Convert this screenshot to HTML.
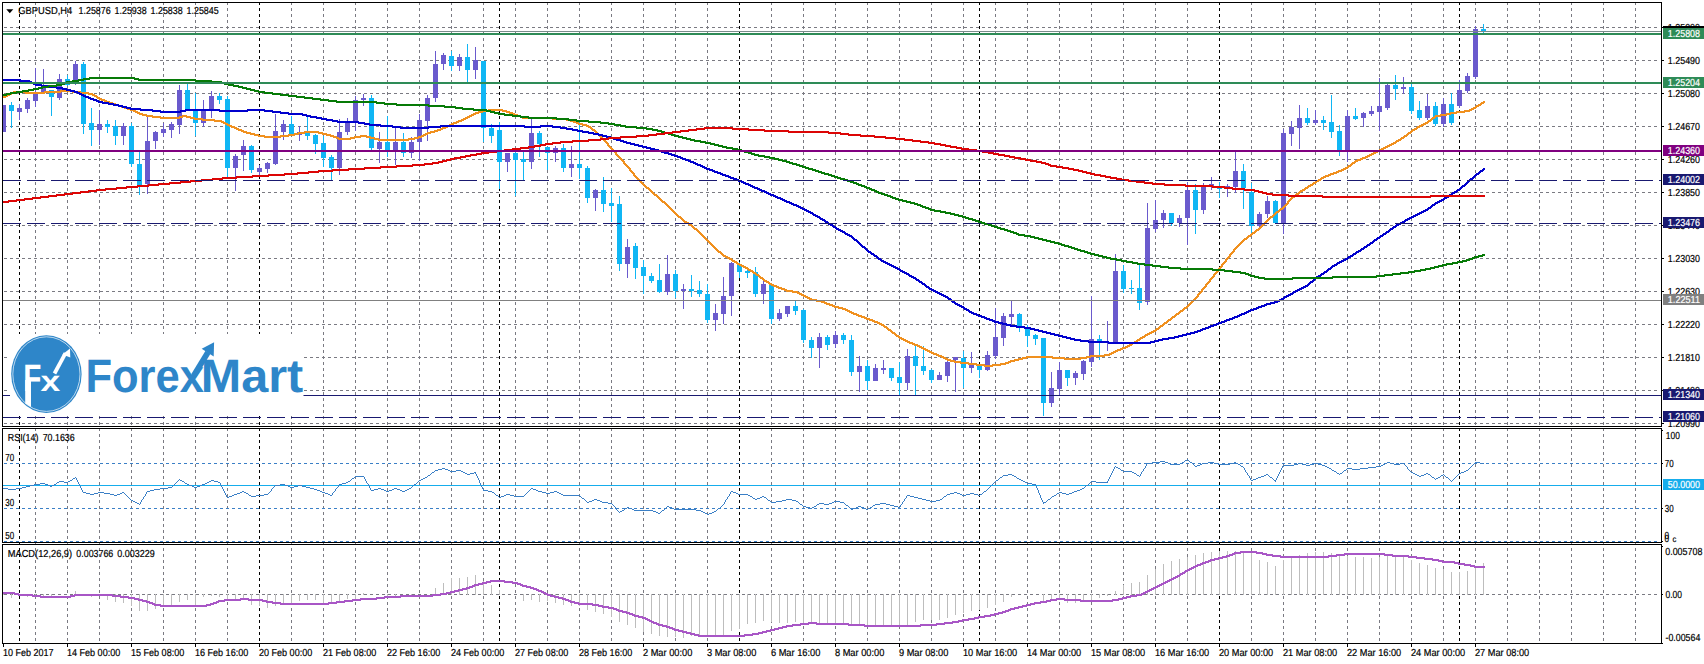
<!DOCTYPE html>
<html><head><meta charset="utf-8"><title>GBPUSD H4</title>
<style>html,body{margin:0;padding:0;background:#fff;overflow:hidden}svg{display:block}</style></head>
<body>
<svg width="1704" height="664" viewBox="0 0 1704 664" style="display:block" text-rendering="geometricPrecision">
<rect x="0" y="0" width="1704" height="664" fill="#fff"/>
<g shape-rendering="crispEdges" fill="none" stroke-width="1">
<path d="M35.5 2V641M67.5 2V641M99.5 2V641M131.5 2V641M163.5 2V641M195.5 2V641M227.5 2V641M259.5 2V641M291.5 2V641M323.5 2V641M355.5 2V641M387.5 2V641M419.5 2V641M451.5 2V641M483.5 2V641M515.5 2V641M547.5 2V641M579.5 2V641M611.5 2V641M643.5 2V641M675.5 2V641M707.5 2V641M739.5 2V641M771.5 2V641M803.5 2V641M835.5 2V641M867.5 2V641M899.5 2V641M931.5 2V641M963.5 2V641M995.5 2V641M1027.5 2V641M1059.5 2V641M1091.5 2V641M1123.5 2V641M1155.5 2V641M1187.5 2V641M1219.5 2V641M1251.5 2V641M1283.5 2V641M1315.5 2V641M1347.5 2V641M1379.5 2V641M1411.5 2V641M1443.5 2V641M1475.5 2V641M1507.5 2V641M1539.5 2V641M1571.5 2V641M1603.5 2V641M1635.5 2V641" stroke="#7a7a82" stroke-dasharray="3 3"/>
<path d="M19.5 2V641M259.5 2V641M499.5 2V641M739.5 2V641M979.5 2V641M1219.5 2V641M1459.5 2V641" stroke="#000" stroke-dasharray="3 3"/>
<path d="M4 27.5H1660M4 60.5H1660M4 93.5H1660M4 126.5H1660M4 159.5H1660M4 192.5H1660M4 225.5H1660M4 258.5H1660M4 291.5H1660M4 324.5H1660M4 357.5H1660M4 390.5H1660M4 423.5H1660" stroke="#7a7a82" stroke-dasharray="3 3"/>
</g>
<defs><clipPath id="mainclip"><rect x="3" y="3" width="1658" height="423"/></clipPath></defs>
<g shape-rendering="crispEdges" clip-path="url(#mainclip)">
<path d="M3.5 105V132M19.5 104V120M27.5 98V113M35.5 68V107M43.5 69V92M59.5 74V100M75.5 61V85M99.5 110V145M123.5 123V145M147.5 117V194M155.5 131V149M163.5 123V137M171.5 122V138M179.5 85V134M203.5 100V127M211.5 91V118M235.5 154V191M243.5 140V171M259.5 165V177M267.5 162V173M275.5 114V165M283.5 120V140M299.5 126V141M339.5 119V175M347.5 118V135M355.5 96V131M363.5 94V106M379.5 132V163M395.5 126V165M411.5 137V158M419.5 114V161M427.5 95V141M435.5 51V102M443.5 53V70M459.5 54V71M475.5 47V79M507.5 153V172M531.5 119V169M555.5 146V162M571.5 146V177M595.5 189V211M627.5 239V278M667.5 255V295M683.5 284V309M715.5 304V331M723.5 277V324M731.5 262V316M763.5 281V304M779.5 309V321M787.5 306V317M819.5 333V368M835.5 331V348M859.5 356V392M875.5 364V381M883.5 360V374M907.5 349V390M939.5 372V380M947.5 361V382M955.5 357V392M971.5 352V373M987.5 351V371M995.5 308V359M1003.5 313V346M1011.5 301V325M1051.5 372V407M1059.5 362V395M1075.5 371V385M1083.5 360V380M1091.5 296V367M1107.5 321V351M1115.5 254V344M1147.5 203V305M1155.5 200V232M1163.5 210V228M1179.5 215V227M1187.5 182V245M1203.5 183V214M1211.5 177V190M1227.5 184V197M1235.5 152V193M1259.5 212V227M1267.5 196V218M1283.5 129V234M1291.5 121V146M1299.5 105V149M1315.5 110V125M1347.5 110V162M1363.5 112V127M1371.5 106V116M1379.5 78V131M1387.5 84V110M1403.5 77V94M1427.5 94V120M1443.5 98V127M1459.5 80V108M1467.5 73V93M1475.5 26V79" stroke="#6a5acd" stroke-width="1" fill="none"/>
<path d="M11.5 102V128M51.5 90V116M67.5 75V86M83.5 62V134M91.5 108V146M107.5 120V133M115.5 120V145M131.5 123V167M139.5 152V195M187.5 84V110M195.5 93V136M219.5 93V104M227.5 96V178M251.5 145V173M291.5 116V136M307.5 117V140M315.5 134V154M323.5 136V167M331.5 155V181M371.5 95V150M387.5 116V157M403.5 133V157M451.5 51V71M467.5 44V82M483.5 61V142M491.5 124V143M499.5 122V189M515.5 152V196M523.5 152V180M539.5 131V157M547.5 147V170M563.5 144V172M579.5 122V179M587.5 166V203M603.5 177V212M611.5 188V222M619.5 196V271M635.5 243V279M643.5 260V294M651.5 273V283M659.5 264V293M675.5 270V298M691.5 275V297M699.5 281V297M707.5 284V323M739.5 262V278M747.5 269V278M755.5 267V297M771.5 284V324M795.5 301V315M803.5 309V343M811.5 337V358M827.5 335V350M843.5 333V344M851.5 335V376M867.5 360V390M891.5 368V381M899.5 362V395M915.5 346V395M923.5 346V375M931.5 369V383M963.5 351V388M979.5 365V378M1019.5 313V332M1027.5 325V347M1035.5 334V345M1043.5 338V416M1067.5 370V386M1099.5 335V360M1123.5 265V293M1131.5 280V294M1139.5 264V310M1171.5 213V226M1195.5 184V234M1219.5 182V198M1243.5 164V209M1251.5 183V233M1275.5 200V224M1307.5 108V125M1323.5 116V130M1331.5 95V138M1339.5 125V156M1355.5 108V120M1395.5 75V100M1411.5 83V114M1419.5 101V120M1435.5 102V126M1451.5 93V125M1483.5 24V33" stroke="#10b6f4" stroke-width="1" fill="none"/>
<path d="M1 105h5v27h-5zM17 108h5v4h-5zM25 100h5v9h-5zM33 93h5v8h-5zM41 88h5v4h-5zM57 79h5v19h-5zM73 64h5v16h-5zM97 124h5v6h-5zM121 126h5v10h-5zM145 141h5v43h-5zM153 132h5v9h-5zM161 129h5v4h-5zM169 124h5v6h-5zM177 90h5v35h-5zM201 109h5v14h-5zM209 96h5v14h-5zM233 156h5v12h-5zM241 146h5v9h-5zM257 168h5v4h-5zM265 163h5v6h-5zM273 131h5v33h-5zM281 124h5v8h-5zM297 132h5v3h-5zM337 132h5v36h-5zM345 122h5v10h-5zM353 100h5v22h-5zM361 98h5v2h-5zM377 142h5v7h-5zM393 142h5v10h-5zM409 142h5v11h-5zM417 120h5v22h-5zM425 98h5v23h-5zM433 64h5v34h-5zM441 55h5v9h-5zM457 57h5v9h-5zM473 60h5v10h-5zM505 153h5v9h-5zM529 133h5v29h-5zM553 148h5v5h-5zM569 164h5v4h-5zM593 190h5v8h-5zM625 247h5v17h-5zM665 274h5v18h-5zM681 289h5v2h-5zM713 313h5v7h-5zM721 296h5v18h-5zM729 263h5v33h-5zM761 284h5v10h-5zM777 313h5v6h-5zM785 306h5v8h-5zM817 337h5v11h-5zM833 335h5v9h-5zM857 366h5v6h-5zM873 368h5v13h-5zM881 368h5v2h-5zM905 356h5v27h-5zM937 375h5v5h-5zM945 362h5v14h-5zM953 357h5v3h-5zM969 363h5v5h-5zM985 355h5v15h-5zM993 337h5v19h-5zM1001 316h5v22h-5zM1009 314h5v3h-5zM1049 388h5v15h-5zM1057 370h5v19h-5zM1073 373h5v5h-5zM1081 361h5v13h-5zM1089 339h5v23h-5zM1105 342h5v1h-5zM1113 271h5v72h-5zM1145 228h5v74h-5zM1153 220h5v9h-5zM1161 213h5v7h-5zM1177 218h5v5h-5zM1185 190h5v28h-5zM1201 186h5v24h-5zM1209 184h5v3h-5zM1225 186h5v2h-5zM1233 171h5v16h-5zM1257 214h5v12h-5zM1265 201h5v13h-5zM1281 133h5v90h-5zM1289 127h5v7h-5zM1297 118h5v10h-5zM1313 120h5v3h-5zM1345 116h5v34h-5zM1361 113h5v5h-5zM1369 111h5v3h-5zM1377 106h5v6h-5zM1385 85h5v23h-5zM1401 87h5v2h-5zM1425 106h5v12h-5zM1441 104h5v20h-5zM1457 90h5v16h-5zM1465 76h5v15h-5zM1473 29h5v48h-5z" fill="#6a5acd"/>
<path d="M9 105h5v6h-5zM49 90h5v7h-5zM65 79h5v6h-5zM81 64h5v60h-5zM89 123h5v7h-5zM105 124h5v3h-5zM113 126h5v10h-5zM129 126h5v38h-5zM137 164h5v22h-5zM185 90h5v20h-5zM193 109h5v14h-5zM217 96h5v4h-5zM225 99h5v69h-5zM249 146h5v24h-5zM289 124h5v10h-5zM305 132h5v4h-5zM313 135h5v9h-5zM321 143h5v15h-5zM329 157h5v11h-5zM369 98h5v50h-5zM385 142h5v10h-5zM401 142h5v11h-5zM449 56h5v10h-5zM465 57h5v13h-5zM481 61h5v67h-5zM489 128h5v8h-5zM497 130h5v32h-5zM513 153h5v7h-5zM521 159h5v3h-5zM537 133h5v11h-5zM545 147h5v6h-5zM561 148h5v20h-5zM577 164h5v4h-5zM585 168h5v30h-5zM601 190h5v14h-5zM609 203h5v3h-5zM617 204h5v60h-5zM633 246h5v22h-5zM641 267h5v9h-5zM649 276h5v5h-5zM657 280h5v12h-5zM673 274h5v17h-5zM689 289h5v2h-5zM697 290h5v4h-5zM705 294h5v26h-5zM737 264h5v8h-5zM745 271h5v2h-5zM753 272h5v22h-5zM769 285h5v34h-5zM793 306h5v5h-5zM801 310h5v30h-5zM809 340h5v8h-5zM825 337h5v8h-5zM841 335h5v5h-5zM849 340h5v32h-5zM865 366h5v15h-5zM889 368h5v10h-5zM897 377h5v6h-5zM913 356h5v10h-5zM921 366h5v5h-5zM929 370h5v10h-5zM961 358h5v10h-5zM977 366h5v4h-5zM1017 314h5v12h-5zM1025 329h5v7h-5zM1033 335h5v4h-5zM1041 338h5v65h-5zM1065 370h5v8h-5zM1097 339h5v4h-5zM1121 271h5v18h-5zM1129 288h5v1h-5zM1137 288h5v15h-5zM1169 213h5v10h-5zM1193 190h5v20h-5zM1217 186h5v3h-5zM1241 171h5v17h-5zM1249 192h5v34h-5zM1273 201h5v22h-5zM1305 118h5v5h-5zM1321 120h5v3h-5zM1329 122h5v10h-5zM1337 131h5v19h-5zM1353 116h5v3h-5zM1393 85h5v4h-5zM1409 87h5v24h-5zM1417 110h5v8h-5zM1433 106h5v18h-5zM1449 104h5v19h-5zM1481 29h5v3h-5z" fill="#10b6f4"/>
</g>
<g clip-path="url(#mainclip)">
<path d="M60 90h13v1h-13zM13 91h13v1h-13zM44 91h37v1h-37zM11 92h50v1h-50zM72 92h17v1h-17zM9 93h5v1h-5zM25 93h20v1h-20zM80 93h13v1h-13zM7 94h5v1h-5zM88 94h7v1h-7zM5 95h5v1h-5zM92 95h5v1h-5zM3 96h5v1h-5zM94 96h4v1h-4zM3 97h3v1h-3zM96 97h4v1h-4zM97 98h5v1h-5zM99 99h6v1h-6zM101 100h6v1h-6zM104 101h6v1h-6zM1483 101h2v1h-2zM106 102h7v1h-7zM1481 102h4v1h-4zM109 103h7v1h-7zM1480 103h4v1h-4zM112 104h7v1h-7zM1478 104h4v1h-4zM115 105h7v1h-7zM1476 105h5v1h-5zM118 106h7v1h-7zM1475 106h4v1h-4zM121 107h7v1h-7zM1473 107h4v1h-4zM124 108h7v1h-7zM1471 108h5v1h-5zM127 109h7v1h-7zM488 109h15v1h-15zM1469 109h5v1h-5zM130 110h6v1h-6zM482 110h25v1h-25zM1464 110h8v1h-8zM133 111h5v1h-5zM478 111h11v1h-11zM502 111h8v1h-8zM1456 111h14v1h-14zM135 112h5v1h-5zM475 112h8v1h-8zM506 112h7v1h-7zM1450 112h15v1h-15zM137 113h6v1h-6zM473 113h6v1h-6zM509 113h6v1h-6zM1446 113h11v1h-11zM139 114h8v1h-8zM471 114h5v1h-5zM512 114h6v1h-6zM1440 114h11v1h-11zM142 115h11v1h-11zM182 115h5v1h-5zM469 115h5v1h-5zM514 115h7v1h-7zM1435 115h12v1h-12zM146 116h15v1h-15zM179 116h12v1h-12zM467 116h5v1h-5zM517 116h6v1h-6zM1434 116h7v1h-7zM152 117h31v1h-31zM186 117h9v1h-9zM465 117h5v1h-5zM520 117h33v1h-33zM1432 117h4v1h-4zM160 118h20v1h-20zM190 118h13v1h-13zM463 118h5v1h-5zM522 118h45v1h-45zM1431 118h4v1h-4zM194 119h21v1h-21zM461 119h5v1h-5zM552 119h19v1h-19zM1430 119h3v1h-3zM202 120h20v1h-20zM458 120h6v1h-6zM566 120h8v1h-8zM1428 120h4v1h-4zM214 121h10v1h-10zM456 121h6v1h-6zM570 121h7v1h-7zM1427 121h4v1h-4zM221 122h5v1h-5zM453 122h6v1h-6zM573 122h6v1h-6zM1425 122h4v1h-4zM223 123h5v1h-5zM451 123h6v1h-6zM576 123h7v1h-7zM1423 123h5v1h-5zM225 124h5v1h-5zM449 124h5v1h-5zM578 124h9v1h-9zM1421 124h5v1h-5zM227 125h5v1h-5zM447 125h5v1h-5zM582 125h7v1h-7zM1419 125h5v1h-5zM229 126h6v1h-6zM445 126h5v1h-5zM586 126h5v1h-5zM1417 126h5v1h-5zM231 127h6v1h-6zM442 127h6v1h-6zM588 127h4v1h-4zM1416 127h4v1h-4zM234 128h5v1h-5zM440 128h6v1h-6zM590 128h3v1h-3zM1414 128h4v1h-4zM236 129h6v1h-6zM437 129h6v1h-6zM591 129h4v1h-4zM1412 129h5v1h-5zM238 130h6v1h-6zM434 130h7v1h-7zM592 130h4v1h-4zM1411 130h4v1h-4zM241 131h6v1h-6zM304 131h15v1h-15zM430 131h8v1h-8zM594 131h3v1h-3zM1410 131h3v1h-3zM243 132h8v1h-8zM298 132h25v1h-25zM427 132h8v1h-8zM595 132h3v1h-3zM1408 132h4v1h-4zM246 133h9v1h-9zM294 133h11v1h-11zM318 133h9v1h-9zM425 133h6v1h-6zM596 133h3v1h-3zM1407 133h4v1h-4zM250 134h9v1h-9zM288 134h11v1h-11zM322 134h9v1h-9zM423 134h5v1h-5zM597 134h3v1h-3zM1406 134h3v1h-3zM254 135h11v1h-11zM280 135h15v1h-15zM326 135h8v1h-8zM360 135h7v1h-7zM421 135h5v1h-5zM598 135h3v1h-3zM1404 135h4v1h-4zM258 136h31v1h-31zM330 136h7v1h-7zM354 136h17v1h-17zM418 136h6v1h-6zM599 136h3v1h-3zM1403 136h4v1h-4zM264 137h17v1h-17zM333 137h6v1h-6zM350 137h11v1h-11zM366 137h9v1h-9zM414 137h8v1h-8zM600 137h3v1h-3zM1401 137h4v1h-4zM336 138h19v1h-19zM370 138h9v1h-9zM408 138h11v1h-11zM601 138h3v1h-3zM1400 138h4v1h-4zM338 139h13v1h-13zM374 139h41v1h-41zM602 139h3v1h-3zM1398 139h4v1h-4zM378 140h31v1h-31zM603 140h3v1h-3zM1396 140h5v1h-5zM604 141h3v1h-3zM1395 141h4v1h-4zM605 142h3v1h-3zM1393 142h4v1h-4zM606 143h3v1h-3zM1391 143h5v1h-5zM607 144h2v1h-2zM1389 144h5v1h-5zM607 145h3v1h-3zM1387 145h5v1h-5zM608 146h3v1h-3zM1385 146h5v1h-5zM609 147h3v1h-3zM1383 147h5v1h-5zM610 148h3v1h-3zM1381 148h5v1h-5zM611 149h3v1h-3zM1379 149h5v1h-5zM612 150h3v1h-3zM1377 150h5v1h-5zM613 151h3v1h-3zM1375 151h5v1h-5zM614 152h3v1h-3zM1373 152h5v1h-5zM615 153h2v1h-2zM1371 153h5v1h-5zM615 154h3v1h-3zM1369 154h5v1h-5zM616 155h3v1h-3zM1367 155h5v1h-5zM617 156h3v1h-3zM1365 156h5v1h-5zM618 157h3v1h-3zM1362 157h6v1h-6zM619 158h3v1h-3zM1360 158h6v1h-6zM620 159h3v1h-3zM1357 159h6v1h-6zM621 160h3v1h-3zM1355 160h6v1h-6zM622 161h3v1h-3zM1354 161h4v1h-4zM623 162h2v1h-2zM1352 162h4v1h-4zM623 163h3v1h-3zM1351 163h4v1h-4zM624 164h3v1h-3zM1350 164h3v1h-3zM625 165h3v1h-3zM1348 165h4v1h-4zM626 166h3v1h-3zM1347 166h4v1h-4zM627 167h3v1h-3zM1345 167h4v1h-4zM628 168h3v1h-3zM1343 168h5v1h-5zM629 169h2v1h-2zM1341 169h5v1h-5zM629 170h3v1h-3zM1338 170h6v1h-6zM630 171h3v1h-3zM1336 171h6v1h-6zM631 172h3v1h-3zM1333 172h6v1h-6zM632 173h3v1h-3zM1330 173h7v1h-7zM633 174h2v1h-2zM1328 174h6v1h-6zM633 175h3v1h-3zM1325 175h6v1h-6zM634 176h3v1h-3zM1323 176h6v1h-6zM635 177h3v1h-3zM1321 177h5v1h-5zM636 178h3v1h-3zM1320 178h4v1h-4zM637 179h3v1h-3zM1318 179h4v1h-4zM638 180h3v1h-3zM1316 180h5v1h-5zM639 181h3v1h-3zM1315 181h4v1h-4zM640 182h3v1h-3zM1313 182h4v1h-4zM641 183h3v1h-3zM1312 183h4v1h-4zM642 184h3v1h-3zM1310 184h4v1h-4zM643 185h3v1h-3zM1308 185h5v1h-5zM644 186h3v1h-3zM1307 186h4v1h-4zM645 187h4v1h-4zM1305 187h4v1h-4zM646 188h4v1h-4zM1304 188h4v1h-4zM648 189h3v1h-3zM1302 189h4v1h-4zM649 190h3v1h-3zM1300 190h5v1h-5zM650 191h3v1h-3zM1299 191h4v1h-4zM651 192h3v1h-3zM1298 192h3v1h-3zM652 193h3v1h-3zM1296 193h4v1h-4zM653 194h4v1h-4zM1295 194h4v1h-4zM654 195h4v1h-4zM1294 195h3v1h-3zM656 196h3v1h-3zM1292 196h4v1h-4zM657 197h3v1h-3zM1291 197h4v1h-4zM658 198h3v1h-3zM1290 198h3v1h-3zM659 199h3v1h-3zM1289 199h3v1h-3zM660 200h3v1h-3zM1288 200h3v1h-3zM661 201h4v1h-4zM1287 201h3v1h-3zM662 202h4v1h-4zM1287 202h2v1h-2zM664 203h3v1h-3zM1286 203h3v1h-3zM665 204h3v1h-3zM1285 204h3v1h-3zM666 205h3v1h-3zM1284 205h3v1h-3zM667 206h3v1h-3zM1283 206h3v1h-3zM668 207h3v1h-3zM1282 207h3v1h-3zM669 208h3v1h-3zM1280 208h4v1h-4zM670 209h3v1h-3zM1279 209h4v1h-4zM671 210h3v1h-3zM1278 210h3v1h-3zM672 211h3v1h-3zM1276 211h4v1h-4zM673 212h3v1h-3zM1275 212h4v1h-4zM674 213h3v1h-3zM1274 213h3v1h-3zM675 214h3v1h-3zM1273 214h3v1h-3zM676 215h3v1h-3zM1272 215h3v1h-3zM677 216h4v1h-4zM1270 216h4v1h-4zM678 217h4v1h-4zM1269 217h4v1h-4zM680 218h3v1h-3zM1268 218h3v1h-3zM681 219h3v1h-3zM1267 219h3v1h-3zM682 220h3v1h-3zM1266 220h3v1h-3zM683 221h4v1h-4zM1265 221h3v1h-3zM684 222h5v1h-5zM1264 222h3v1h-3zM686 223h4v1h-4zM1263 223h3v1h-3zM688 224h4v1h-4zM1262 224h3v1h-3zM689 225h4v1h-4zM1261 225h3v1h-3zM691 226h3v1h-3zM1260 226h3v1h-3zM692 227h3v1h-3zM1259 227h3v1h-3zM693 228h4v1h-4zM1258 228h3v1h-3zM694 229h4v1h-4zM1256 229h4v1h-4zM696 230h3v1h-3zM1255 230h4v1h-4zM697 231h3v1h-3zM1254 231h3v1h-3zM698 232h3v1h-3zM1252 232h4v1h-4zM699 233h3v1h-3zM1251 233h4v1h-4zM700 234h3v1h-3zM1250 234h3v1h-3zM701 235h3v1h-3zM1248 235h4v1h-4zM702 236h3v1h-3zM1247 236h4v1h-4zM703 237h3v1h-3zM1246 237h3v1h-3zM704 238h3v1h-3zM1244 238h4v1h-4zM705 239h3v1h-3zM1243 239h4v1h-4zM706 240h3v1h-3zM1242 240h3v1h-3zM707 241h3v1h-3zM1241 241h3v1h-3zM708 242h3v1h-3zM1240 242h3v1h-3zM709 243h3v1h-3zM1239 243h3v1h-3zM710 244h3v1h-3zM1238 244h3v1h-3zM711 245h3v1h-3zM1237 245h3v1h-3zM712 246h3v1h-3zM1236 246h3v1h-3zM713 247h3v1h-3zM1235 247h3v1h-3zM714 248h3v1h-3zM1234 248h3v1h-3zM715 249h3v1h-3zM1233 249h3v1h-3zM716 250h3v1h-3zM1233 250h2v1h-2zM717 251h4v1h-4zM1232 251h3v1h-3zM718 252h4v1h-4zM1231 252h3v1h-3zM720 253h3v1h-3zM1230 253h3v1h-3zM721 254h3v1h-3zM1229 254h3v1h-3zM722 255h4v1h-4zM1229 255h2v1h-2zM723 256h5v1h-5zM1228 256h3v1h-3zM725 257h5v1h-5zM1227 257h3v1h-3zM727 258h5v1h-5zM1226 258h3v1h-3zM729 259h4v1h-4zM1225 259h3v1h-3zM731 260h4v1h-4zM1225 260h2v1h-2zM732 261h5v1h-5zM1224 261h3v1h-3zM734 262h4v1h-4zM1223 262h3v1h-3zM736 263h4v1h-4zM1222 263h3v1h-3zM737 264h5v1h-5zM1221 264h3v1h-3zM739 265h5v1h-5zM1221 265h2v1h-2zM741 266h5v1h-5zM1220 266h3v1h-3zM743 267h5v1h-5zM1219 267h3v1h-3zM745 268h4v1h-4zM1218 268h3v1h-3zM747 269h4v1h-4zM1217 269h3v1h-3zM748 270h5v1h-5zM1217 270h2v1h-2zM750 271h4v1h-4zM1216 271h3v1h-3zM752 272h4v1h-4zM1215 272h3v1h-3zM753 273h4v1h-4zM1214 273h3v1h-3zM755 274h4v1h-4zM1213 274h3v1h-3zM756 275h4v1h-4zM1213 275h2v1h-2zM758 276h3v1h-3zM1212 276h3v1h-3zM759 277h4v1h-4zM1211 277h3v1h-3zM760 278h4v1h-4zM1210 278h3v1h-3zM762 279h3v1h-3zM1209 279h3v1h-3zM763 280h4v1h-4zM1209 280h2v1h-2zM764 281h5v1h-5zM1208 281h3v1h-3zM766 282h4v1h-4zM1207 282h3v1h-3zM768 283h4v1h-4zM1206 283h3v1h-3zM769 284h5v1h-5zM1205 284h3v1h-3zM771 285h6v1h-6zM1205 285h2v1h-2zM773 286h6v1h-6zM1204 286h3v1h-3zM776 287h6v1h-6zM1203 287h3v1h-3zM778 288h7v1h-7zM1202 288h3v1h-3zM781 289h6v1h-6zM1201 289h3v1h-3zM784 290h9v1h-9zM1201 290h2v1h-2zM786 291h12v1h-12zM1200 291h3v1h-3zM792 292h8v1h-8zM1199 292h3v1h-3zM797 293h5v1h-5zM1198 293h3v1h-3zM799 294h5v1h-5zM1197 294h3v1h-3zM801 295h5v1h-5zM1197 295h2v1h-2zM803 296h5v1h-5zM1196 296h3v1h-3zM805 297h5v1h-5zM1195 297h3v1h-3zM807 298h5v1h-5zM1194 298h3v1h-3zM809 299h8v1h-8zM1193 299h3v1h-3zM811 300h11v1h-11zM1192 300h3v1h-3zM816 301h9v1h-9zM1191 301h3v1h-3zM821 302h6v1h-6zM1190 302h3v1h-3zM824 303h6v1h-6zM1189 303h3v1h-3zM826 304h7v1h-7zM1188 304h3v1h-3zM829 305h6v1h-6zM1187 305h3v1h-3zM832 306h7v1h-7zM1186 306h3v1h-3zM834 307h9v1h-9zM1184 307h4v1h-4zM838 308h8v1h-8zM1183 308h4v1h-4zM842 309h6v1h-6zM1182 309h3v1h-3zM845 310h5v1h-5zM1180 310h4v1h-4zM847 311h5v1h-5zM1179 311h4v1h-4zM849 312h5v1h-5zM1178 312h3v1h-3zM851 313h6v1h-6zM1176 313h4v1h-4zM853 314h6v1h-6zM1175 314h4v1h-4zM856 315h6v1h-6zM1174 315h3v1h-3zM858 316h7v1h-7zM1172 316h4v1h-4zM861 317h6v1h-6zM1171 317h4v1h-4zM864 318h6v1h-6zM1170 318h3v1h-3zM866 319h7v1h-7zM1168 319h4v1h-4zM869 320h6v1h-6zM1167 320h4v1h-4zM872 321h6v1h-6zM1166 321h3v1h-3zM874 322h6v1h-6zM1164 322h4v1h-4zM877 323h5v1h-5zM1163 323h4v1h-4zM879 324h5v1h-5zM1162 324h3v1h-3zM881 325h4v1h-4zM1160 325h4v1h-4zM883 326h4v1h-4zM1159 326h4v1h-4zM884 327h4v1h-4zM1158 327h3v1h-3zM886 328h3v1h-3zM1156 328h4v1h-4zM887 329h4v1h-4zM1155 329h4v1h-4zM888 330h4v1h-4zM1153 330h4v1h-4zM890 331h3v1h-3zM1151 331h5v1h-5zM891 332h4v1h-4zM1149 332h5v1h-5zM892 333h4v1h-4zM1147 333h5v1h-5zM894 334h3v1h-3zM1145 334h5v1h-5zM895 335h4v1h-4zM1144 335h4v1h-4zM896 336h4v1h-4zM1142 336h4v1h-4zM898 337h4v1h-4zM1140 337h5v1h-5zM899 338h5v1h-5zM1139 338h4v1h-4zM901 339h5v1h-5zM1137 339h4v1h-4zM903 340h5v1h-5zM1136 340h4v1h-4zM905 341h5v1h-5zM1134 341h4v1h-4zM907 342h6v1h-6zM1132 342h5v1h-5zM909 343h6v1h-6zM1131 343h4v1h-4zM912 344h6v1h-6zM1129 344h4v1h-4zM914 345h6v1h-6zM1127 345h5v1h-5zM917 346h5v1h-5zM1125 346h5v1h-5zM919 347h5v1h-5zM1122 347h6v1h-6zM921 348h5v1h-5zM1120 348h6v1h-6zM923 349h5v1h-5zM1117 349h6v1h-6zM925 350h5v1h-5zM1115 350h6v1h-6zM927 351h5v1h-5zM1113 351h5v1h-5zM929 352h5v1h-5zM1111 352h5v1h-5zM931 353h6v1h-6zM1109 353h5v1h-5zM933 354h6v1h-6zM1104 354h8v1h-8zM936 355h6v1h-6zM1090 355h20v1h-20zM938 356h6v1h-6zM1026 356h27v1h-27zM1086 356h19v1h-19zM941 357h5v1h-5zM1022 357h43v1h-43zM1080 357h11v1h-11zM943 358h5v1h-5zM1018 358h9v1h-9zM1052 358h35v1h-35zM945 359h6v1h-6zM1014 359h9v1h-9zM1064 359h17v1h-17zM947 360h8v1h-8zM1010 360h9v1h-9zM950 361h11v1h-11zM1008 361h7v1h-7zM954 362h15v1h-15zM1005 362h6v1h-6zM960 363h17v1h-17zM1000 363h9v1h-9zM968 364h17v1h-17zM992 364h14v1h-14zM976 365h25v1h-25zM984 366h9v1h-9z" fill="#f0901e" shape-rendering="crispEdges"/>
<path d="M3 79h18v1h-18zM3 80h27v1h-27zM20 81h12v1h-12zM29 82h5v1h-5zM31 83h5v1h-5zM33 84h9v1h-9zM35 85h15v1h-15zM41 86h16v1h-16zM49 87h14v1h-14zM56 88h11v1h-11zM62 89h9v1h-9zM66 90h9v1h-9zM70 91h8v1h-8zM74 92h6v1h-6zM77 93h5v1h-5zM79 94h5v1h-5zM81 95h5v1h-5zM83 96h6v1h-6zM85 97h6v1h-6zM88 98h6v1h-6zM90 99h7v1h-7zM93 100h6v1h-6zM96 101h7v1h-7zM98 102h11v1h-11zM102 103h12v1h-12zM108 104h11v1h-11zM113 105h10v1h-10zM118 106h9v1h-9zM122 107h9v1h-9zM126 108h15v1h-15zM130 109h23v1h-23zM185 109h35v1h-35zM247 109h18v1h-18zM140 110h21v1h-21zM180 110h93v1h-93zM152 111h34v1h-34zM219 111h29v1h-29zM264 111h17v1h-17zM160 112h21v1h-21zM272 112h17v1h-17zM280 113h23v1h-23zM288 114h19v1h-19zM302 115h9v1h-9zM306 116h11v1h-11zM310 117h12v1h-12zM316 118h11v1h-11zM321 119h12v1h-12zM326 120h12v1h-12zM332 121h27v1h-27zM337 122h28v1h-28zM358 123h12v1h-12zM364 124h17v1h-17zM369 125h24v1h-24zM440 125h85v1h-85zM540 125h13v1h-13zM380 126h21v1h-21zM428 126h133v1h-133zM392 127h49v1h-49zM524 127h17v1h-17zM552 127h15v1h-15zM400 128h29v1h-29zM560 128h13v1h-13zM566 129h12v1h-12zM572 130h11v1h-11zM577 131h12v1h-12zM582 132h12v1h-12zM588 133h11v1h-11zM593 134h10v1h-10zM598 135h9v1h-9zM602 136h9v1h-9zM606 137h8v1h-8zM610 138h7v1h-7zM613 139h8v1h-8zM616 140h8v1h-8zM620 141h7v1h-7zM623 142h8v1h-8zM626 143h9v1h-9zM630 144h9v1h-9zM634 145h9v1h-9zM638 146h9v1h-9zM642 147h9v1h-9zM646 148h9v1h-9zM650 149h9v1h-9zM654 150h8v1h-8zM658 151h7v1h-7zM661 152h8v1h-8zM664 153h8v1h-8zM668 154h7v1h-7zM671 155h7v1h-7zM674 156h7v1h-7zM677 157h6v1h-6zM680 158h6v1h-6zM682 159h7v1h-7zM685 160h6v1h-6zM688 161h6v1h-6zM690 162h6v1h-6zM693 163h5v1h-5zM695 164h6v1h-6zM697 165h6v1h-6zM700 166h5v1h-5zM702 167h5v1h-5zM704 168h6v1h-6zM1483 168h2v1h-2zM706 169h7v1h-7zM1482 169h3v1h-3zM709 170h6v1h-6zM1480 170h4v1h-4zM712 171h6v1h-6zM1479 171h4v1h-4zM714 172h7v1h-7zM1478 172h3v1h-3zM717 173h6v1h-6zM1476 173h4v1h-4zM720 174h6v1h-6zM1475 174h4v1h-4zM722 175h7v1h-7zM1474 175h3v1h-3zM725 176h6v1h-6zM1473 176h3v1h-3zM728 177h6v1h-6zM1472 177h3v1h-3zM730 178h7v1h-7zM1470 178h4v1h-4zM733 179h6v1h-6zM1469 179h4v1h-4zM736 180h6v1h-6zM1468 180h3v1h-3zM738 181h6v1h-6zM1467 181h3v1h-3zM741 182h5v1h-5zM1466 182h3v1h-3zM743 183h6v1h-6zM1465 183h3v1h-3zM745 184h6v1h-6zM1464 184h3v1h-3zM748 185h5v1h-5zM1462 185h4v1h-4zM750 186h5v1h-5zM1461 186h4v1h-4zM752 187h6v1h-6zM1460 187h3v1h-3zM754 188h6v1h-6zM1459 188h3v1h-3zM757 189h5v1h-5zM1457 189h4v1h-4zM759 190h6v1h-6zM1456 190h4v1h-4zM761 191h6v1h-6zM1454 191h4v1h-4zM764 192h5v1h-5zM1452 192h5v1h-5zM766 193h5v1h-5zM1451 193h4v1h-4zM768 194h6v1h-6zM1449 194h4v1h-4zM770 195h6v1h-6zM1448 195h4v1h-4zM773 196h5v1h-5zM1446 196h4v1h-4zM775 197h6v1h-6zM1444 197h5v1h-5zM777 198h6v1h-6zM1443 198h4v1h-4zM780 199h5v1h-5zM1441 199h4v1h-4zM782 200h5v1h-5zM1439 200h5v1h-5zM784 201h6v1h-6zM1437 201h5v1h-5zM786 202h6v1h-6zM1435 202h5v1h-5zM789 203h5v1h-5zM1434 203h4v1h-4zM791 204h6v1h-6zM1432 204h4v1h-4zM793 205h6v1h-6zM1431 205h4v1h-4zM796 206h5v1h-5zM1430 206h3v1h-3zM798 207h5v1h-5zM1428 207h4v1h-4zM800 208h5v1h-5zM1427 208h4v1h-4zM802 209h5v1h-5zM1425 209h4v1h-4zM804 210h5v1h-5zM1423 210h5v1h-5zM806 211h5v1h-5zM1421 211h5v1h-5zM808 212h5v1h-5zM1419 212h5v1h-5zM810 213h4v1h-4zM1417 213h5v1h-5zM812 214h4v1h-4zM1415 214h5v1h-5zM813 215h5v1h-5zM1413 215h5v1h-5zM815 216h5v1h-5zM1411 216h5v1h-5zM817 217h4v1h-4zM1409 217h5v1h-5zM819 218h4v1h-4zM1407 218h5v1h-5zM820 219h5v1h-5zM1405 219h5v1h-5zM822 220h4v1h-4zM1404 220h4v1h-4zM824 221h4v1h-4zM1402 221h4v1h-4zM825 222h4v1h-4zM1400 222h5v1h-5zM827 223h4v1h-4zM1398 223h5v1h-5zM828 224h5v1h-5zM1396 224h5v1h-5zM830 225h4v1h-4zM1395 225h4v1h-4zM832 226h4v1h-4zM1393 226h4v1h-4zM833 227h4v1h-4zM1392 227h4v1h-4zM835 228h4v1h-4zM1390 228h4v1h-4zM836 229h5v1h-5zM1389 229h4v1h-4zM838 230h5v1h-5zM1388 230h3v1h-3zM840 231h5v1h-5zM1386 231h4v1h-4zM842 232h4v1h-4zM1385 232h4v1h-4zM844 233h4v1h-4zM1383 233h4v1h-4zM845 234h5v1h-5zM1382 234h4v1h-4zM847 235h5v1h-5zM1380 235h4v1h-4zM849 236h4v1h-4zM1379 236h4v1h-4zM851 237h3v1h-3zM1377 237h4v1h-4zM852 238h3v1h-3zM1376 238h4v1h-4zM853 239h4v1h-4zM1374 239h4v1h-4zM854 240h4v1h-4zM1373 240h4v1h-4zM856 241h3v1h-3zM1372 241h3v1h-3zM857 242h3v1h-3zM1370 242h4v1h-4zM858 243h3v1h-3zM1369 243h4v1h-4zM859 244h3v1h-3zM1367 244h4v1h-4zM860 245h3v1h-3zM1366 245h4v1h-4zM861 246h4v1h-4zM1364 246h4v1h-4zM862 247h4v1h-4zM1363 247h4v1h-4zM864 248h3v1h-3zM1361 248h4v1h-4zM865 249h3v1h-3zM1360 249h4v1h-4zM866 250h3v1h-3zM1358 250h4v1h-4zM867 251h4v1h-4zM1356 251h5v1h-5zM868 252h4v1h-4zM1355 252h4v1h-4zM870 253h4v1h-4zM1353 253h4v1h-4zM871 254h4v1h-4zM1352 254h4v1h-4zM873 255h4v1h-4zM1350 255h4v1h-4zM874 256h4v1h-4zM1348 256h5v1h-5zM876 257h3v1h-3zM1347 257h4v1h-4zM877 258h4v1h-4zM1345 258h4v1h-4zM878 259h4v1h-4zM1343 259h5v1h-5zM880 260h4v1h-4zM1341 260h5v1h-5zM881 261h5v1h-5zM1339 261h5v1h-5zM883 262h5v1h-5zM1337 262h5v1h-5zM885 263h5v1h-5zM1336 263h4v1h-4zM887 264h5v1h-5zM1334 264h4v1h-4zM889 265h5v1h-5zM1332 265h5v1h-5zM891 266h5v1h-5zM1331 266h4v1h-4zM893 267h5v1h-5zM1330 267h3v1h-3zM895 268h5v1h-5zM1328 268h4v1h-4zM897 269h4v1h-4zM1327 269h4v1h-4zM899 270h4v1h-4zM1326 270h3v1h-3zM900 271h5v1h-5zM1324 271h4v1h-4zM902 272h5v1h-5zM1323 272h4v1h-4zM904 273h5v1h-5zM1321 273h4v1h-4zM906 274h4v1h-4zM1320 274h4v1h-4zM908 275h4v1h-4zM1318 275h4v1h-4zM909 276h5v1h-5zM1316 276h5v1h-5zM911 277h5v1h-5zM1315 277h4v1h-4zM913 278h4v1h-4zM1314 278h3v1h-3zM915 279h4v1h-4zM1313 279h3v1h-3zM916 280h4v1h-4zM1312 280h3v1h-3zM918 281h4v1h-4zM1310 281h4v1h-4zM919 282h4v1h-4zM1309 282h4v1h-4zM921 283h4v1h-4zM1308 283h3v1h-3zM922 284h4v1h-4zM1307 284h3v1h-3zM924 285h3v1h-3zM1305 285h4v1h-4zM925 286h4v1h-4zM1303 286h5v1h-5zM926 287h4v1h-4zM1301 287h5v1h-5zM928 288h4v1h-4zM1299 288h5v1h-5zM929 289h5v1h-5zM1297 289h5v1h-5zM931 290h5v1h-5zM1295 290h5v1h-5zM933 291h5v1h-5zM1293 291h5v1h-5zM935 292h5v1h-5zM1292 292h4v1h-4zM937 293h5v1h-5zM1290 293h4v1h-4zM939 294h5v1h-5zM1288 294h5v1h-5zM941 295h5v1h-5zM1286 295h5v1h-5zM943 296h5v1h-5zM1284 296h5v1h-5zM945 297h4v1h-4zM1283 297h4v1h-4zM947 298h4v1h-4zM1281 298h4v1h-4zM948 299h4v1h-4zM1279 299h5v1h-5zM950 300h3v1h-3zM1277 300h5v1h-5zM951 301h4v1h-4zM1274 301h6v1h-6zM952 302h4v1h-4zM1270 302h8v1h-8zM954 303h4v1h-4zM1266 303h9v1h-9zM955 304h5v1h-5zM1264 304h7v1h-7zM957 305h5v1h-5zM1261 305h6v1h-6zM959 306h5v1h-5zM1258 306h7v1h-7zM961 307h4v1h-4zM1256 307h6v1h-6zM963 308h4v1h-4zM1253 308h6v1h-6zM964 309h5v1h-5zM1250 309h7v1h-7zM966 310h4v1h-4zM1248 310h6v1h-6zM968 311h4v1h-4zM1246 311h5v1h-5zM969 312h5v1h-5zM1244 312h5v1h-5zM971 313h6v1h-6zM1241 313h6v1h-6zM973 314h6v1h-6zM1239 314h6v1h-6zM976 315h6v1h-6zM1237 315h5v1h-5zM978 316h7v1h-7zM1234 316h6v1h-6zM981 317h6v1h-6zM1232 317h6v1h-6zM984 318h6v1h-6zM1229 318h6v1h-6zM986 319h7v1h-7zM1226 319h7v1h-7zM989 320h6v1h-6zM1224 320h6v1h-6zM992 321h7v1h-7zM1221 321h6v1h-6zM994 322h9v1h-9zM1218 322h7v1h-7zM998 323h9v1h-9zM1216 323h6v1h-6zM1002 324h9v1h-9zM1213 324h6v1h-6zM1006 325h11v1h-11zM1210 325h7v1h-7zM1010 326h15v1h-15zM1208 326h6v1h-6zM1016 327h15v1h-15zM1205 327h6v1h-6zM1024 328h11v1h-11zM1202 328h7v1h-7zM1030 329h9v1h-9zM1200 329h6v1h-6zM1034 330h9v1h-9zM1197 330h6v1h-6zM1038 331h9v1h-9zM1194 331h7v1h-7zM1042 332h9v1h-9zM1190 332h8v1h-8zM1046 333h9v1h-9zM1186 333h9v1h-9zM1050 334h9v1h-9zM1182 334h9v1h-9zM1054 335h9v1h-9zM1178 335h9v1h-9zM1058 336h9v1h-9zM1174 336h9v1h-9zM1062 337h9v1h-9zM1168 337h11v1h-11zM1066 338h9v1h-9zM1162 338h13v1h-13zM1070 339h11v1h-11zM1158 339h11v1h-11zM1074 340h15v1h-15zM1154 340h9v1h-9zM1080 341h29v1h-29zM1150 341h9v1h-9zM1088 342h67v1h-67zM1108 343h43v1h-43z" fill="#0000cd" shape-rendering="crispEdges"/>
<path d="M89 77h46v1h-46zM83 78h56v1h-56zM78 79h12v1h-12zM134 79h62v1h-62zM72 80h12v1h-12zM138 80h74v1h-74zM66 81h13v1h-13zM195 81h27v1h-27zM64 82h9v1h-9zM211 82h14v1h-14zM61 83h6v1h-6zM221 83h8v1h-8zM56 84h9v1h-9zM224 84h10v1h-10zM48 85h14v1h-14zM228 85h11v1h-11zM42 86h15v1h-15zM233 86h10v1h-10zM38 87h11v1h-11zM238 87h9v1h-9zM33 88h10v1h-10zM242 88h9v1h-9zM28 89h11v1h-11zM246 89h9v1h-9zM22 90h12v1h-12zM250 90h9v1h-9zM16 91h13v1h-13zM254 91h11v1h-11zM10 92h13v1h-13zM258 92h15v1h-15zM6 93h11v1h-11zM264 93h17v1h-17zM3 94h8v1h-8zM272 94h17v1h-17zM3 95h4v1h-4zM280 95h17v1h-17zM288 96h17v1h-17zM296 97h17v1h-17zM304 98h17v1h-17zM312 99h17v1h-17zM320 100h17v1h-17zM328 101h49v1h-49zM336 102h49v1h-49zM376 103h21v1h-21zM384 104h45v1h-45zM396 105h49v1h-49zM428 106h28v1h-28zM444 107h19v1h-19zM455 108h19v1h-19zM462 109h25v1h-25zM473 110h18v1h-18zM486 111h9v1h-9zM490 112h9v1h-9zM494 113h11v1h-11zM498 114h15v1h-15zM504 115h17v1h-17zM512 116h17v1h-17zM520 117h37v1h-37zM528 118h41v1h-41zM556 119h21v1h-21zM568 120h21v1h-21zM576 121h25v1h-25zM588 122h21v1h-21zM600 123h15v1h-15zM608 124h13v1h-13zM614 125h12v1h-12zM620 126h17v1h-17zM625 127h22v1h-22zM636 128h17v1h-17zM646 129h12v1h-12zM652 130h10v1h-10zM657 131h8v1h-8zM661 132h8v1h-8zM664 133h8v1h-8zM668 134h7v1h-7zM671 135h8v1h-8zM674 136h9v1h-9zM678 137h9v1h-9zM682 138h9v1h-9zM686 139h9v1h-9zM690 140h11v1h-11zM694 141h12v1h-12zM700 142h11v1h-11zM705 143h10v1h-10zM710 144h9v1h-9zM714 145h9v1h-9zM718 146h9v1h-9zM722 147h11v1h-11zM726 148h12v1h-12zM732 149h10v1h-10zM737 150h8v1h-8zM741 151h8v1h-8zM744 152h8v1h-8zM748 153h7v1h-7zM751 154h8v1h-8zM754 155h11v1h-11zM758 156h12v1h-12zM764 157h11v1h-11zM769 158h10v1h-10zM774 159h9v1h-9zM778 160h9v1h-9zM782 161h8v1h-8zM786 162h7v1h-7zM789 163h8v1h-8zM792 164h8v1h-8zM796 165h7v1h-7zM799 166h7v1h-7zM802 167h7v1h-7zM805 168h8v1h-8zM808 169h8v1h-8zM812 170h7v1h-7zM815 171h7v1h-7zM818 172h7v1h-7zM821 173h8v1h-8zM824 174h8v1h-8zM828 175h7v1h-7zM831 176h7v1h-7zM834 177h7v1h-7zM837 178h8v1h-8zM840 179h8v1h-8zM844 180h7v1h-7zM847 181h7v1h-7zM850 182h7v1h-7zM853 183h6v1h-6zM856 184h6v1h-6zM858 185h7v1h-7zM861 186h6v1h-6zM864 187h6v1h-6zM866 188h6v1h-6zM869 189h6v1h-6zM871 190h6v1h-6zM874 191h5v1h-5zM876 192h6v1h-6zM878 193h7v1h-7zM881 194h7v1h-7zM884 195h7v1h-7zM887 196h6v1h-6zM890 197h6v1h-6zM892 198h7v1h-7zM895 199h8v1h-8zM898 200h9v1h-9zM902 201h9v1h-9zM906 202h9v1h-9zM910 203h8v1h-8zM914 204h7v1h-7zM917 205h6v1h-6zM920 206h6v1h-6zM922 207h7v1h-7zM925 208h6v1h-6zM928 209h7v1h-7zM930 210h11v1h-11zM934 211h12v1h-12zM940 212h11v1h-11zM945 213h10v1h-10zM950 214h9v1h-9zM954 215h9v1h-9zM958 216h8v1h-8zM962 217h7v1h-7zM965 218h8v1h-8zM968 219h8v1h-8zM972 220h7v1h-7zM975 221h7v1h-7zM978 222h7v1h-7zM981 223h8v1h-8zM984 224h8v1h-8zM988 225h7v1h-7zM991 226h7v1h-7zM994 227h7v1h-7zM997 228h8v1h-8zM1000 229h8v1h-8zM1004 230h7v1h-7zM1007 231h7v1h-7zM1010 232h7v1h-7zM1013 233h6v1h-6zM1016 234h9v1h-9zM1018 235h13v1h-13zM1024 236h11v1h-11zM1030 237h9v1h-9zM1034 238h9v1h-9zM1038 239h9v1h-9zM1042 240h9v1h-9zM1046 241h9v1h-9zM1050 242h9v1h-9zM1054 243h8v1h-8zM1058 244h7v1h-7zM1061 245h8v1h-8zM1064 246h8v1h-8zM1068 247h7v1h-7zM1071 248h7v1h-7zM1074 249h7v1h-7zM1077 250h8v1h-8zM1080 251h8v1h-8zM1084 252h7v1h-7zM1087 253h8v1h-8zM1090 254h9v1h-9zM1482 254h3v1h-3zM1094 255h9v1h-9zM1478 255h7v1h-7zM1098 256h9v1h-9zM1474 256h9v1h-9zM1102 257h9v1h-9zM1472 257h7v1h-7zM1106 258h11v1h-11zM1469 258h6v1h-6zM1110 259h12v1h-12zM1466 259h7v1h-7zM1116 260h11v1h-11zM1462 260h8v1h-8zM1121 261h12v1h-12zM1457 261h10v1h-10zM1126 262h12v1h-12zM1452 262h11v1h-11zM1132 263h13v1h-13zM1446 263h12v1h-12zM1137 264h16v1h-16zM1442 264h11v1h-11zM1144 265h17v1h-17zM1438 265h9v1h-9zM1152 266h17v1h-17zM1434 266h9v1h-9zM1160 267h21v1h-21zM1430 267h9v1h-9zM1168 268h45v1h-45zM1425 268h10v1h-10zM1180 269h45v1h-45zM1420 269h11v1h-11zM1212 270h21v1h-21zM1414 270h12v1h-12zM1224 271h17v1h-17zM1408 271h13v1h-13zM1232 272h14v1h-14zM1400 272h15v1h-15zM1240 273h9v1h-9zM1392 273h17v1h-17zM1245 274h6v1h-6zM1384 274h17v1h-17zM1248 275h7v1h-7zM1376 275h17v1h-17zM1250 276h9v1h-9zM1332 276h53v1h-53zM1254 277h11v1h-11zM1292 277h85v1h-85zM1258 278h75v1h-75zM1264 279h29v1h-29z" fill="#067a06" shape-rendering="crispEdges"/>
<path d="M704 127h29v1h-29zM696 128h53v1h-53zM688 129h17v1h-17zM732 129h33v1h-33zM680 130h17v1h-17zM748 130h41v1h-41zM672 131h17v1h-17zM764 131h65v1h-65zM664 132h17v1h-17zM788 132h53v1h-53zM656 133h17v1h-17zM828 133h21v1h-21zM648 134h17v1h-17zM840 134h21v1h-21zM636 135h21v1h-21zM848 135h27v1h-27zM620 136h29v1h-29zM860 136h26v1h-26zM608 137h29v1h-29zM874 137h22v1h-22zM600 138h21v1h-21zM885 138h20v1h-20zM588 139h21v1h-21zM895 139h18v1h-18zM572 140h29v1h-29zM904 140h17v1h-17zM560 141h29v1h-29zM912 141h17v1h-17zM552 142h21v1h-21zM920 142h15v1h-15zM545 143h16v1h-16zM928 143h13v1h-13zM540 144h13v1h-13zM934 144h12v1h-12zM534 145h12v1h-12zM940 145h11v1h-11zM528 146h13v1h-13zM945 146h12v1h-12zM520 147h15v1h-15zM950 147h12v1h-12zM512 148h17v1h-17zM956 148h13v1h-13zM504 149h17v1h-17zM961 149h16v1h-16zM496 150h17v1h-17zM968 150h15v1h-15zM488 151h17v1h-17zM976 151h13v1h-13zM481 152h16v1h-16zM982 152h12v1h-12zM476 153h13v1h-13zM988 153h11v1h-11zM470 154h12v1h-12zM993 154h12v1h-12zM465 155h12v1h-12zM998 155h12v1h-12zM460 156h11v1h-11zM1004 156h11v1h-11zM454 157h12v1h-12zM1009 157h12v1h-12zM450 158h11v1h-11zM1014 158h12v1h-12zM446 159h9v1h-9zM1020 159h11v1h-11zM442 160h9v1h-9zM1025 160h12v1h-12zM438 161h9v1h-9zM1030 161h12v1h-12zM432 162h11v1h-11zM1036 162h10v1h-10zM424 163h15v1h-15zM1041 163h8v1h-8zM412 164h21v1h-21zM1045 164h6v1h-6zM396 165h29v1h-29zM1048 165h9v1h-9zM380 166h33v1h-33zM1050 166h13v1h-13zM364 167h33v1h-33zM1056 167h13v1h-13zM348 168h33v1h-33zM1062 168h12v1h-12zM332 169h33v1h-33zM1068 169h11v1h-11zM318 170h31v1h-31zM1073 170h10v1h-10zM308 171h25v1h-25zM1078 171h9v1h-9zM297 172h22v1h-22zM1082 172h9v1h-9zM284 173h25v1h-25zM1086 173h9v1h-9zM268 174h30v1h-30zM1090 174h11v1h-11zM252 175h33v1h-33zM1094 175h12v1h-12zM236 176h33v1h-33zM1100 176h11v1h-11zM222 177h31v1h-31zM1105 177h12v1h-12zM212 178h25v1h-25zM1110 178h12v1h-12zM201 179h22v1h-22zM1116 179h13v1h-13zM190 180h23v1h-23zM1121 180h16v1h-16zM180 181h22v1h-22zM1128 181h17v1h-17zM169 182h22v1h-22zM1136 182h17v1h-17zM158 183h23v1h-23zM1144 183h21v1h-21zM148 184h22v1h-22zM1152 184h34v1h-34zM137 185h22v1h-22zM1164 185h49v1h-49zM126 186h23v1h-23zM1185 186h40v1h-40zM116 187h22v1h-22zM1212 187h21v1h-21zM105 188h22v1h-22zM1224 188h21v1h-21zM96 189h21v1h-21zM1232 189h23v1h-23zM88 190h18v1h-18zM1244 190h15v1h-15zM80 191h17v1h-17zM1254 191h9v1h-9zM72 192h17v1h-17zM1258 192h9v1h-9zM64 193h17v1h-17zM1262 193h11v1h-11zM56 194h17v1h-17zM1266 194h23v1h-23zM48 195h17v1h-17zM1272 195h51v1h-51zM1430 195h55v1h-55zM40 196h17v1h-17zM1288 196h197v1h-197zM32 197h17v1h-17zM1322 197h109v1h-109zM24 198h17v1h-17zM16 199h17v1h-17zM8 200h17v1h-17zM3 201h14v1h-14zM3 202h6v1h-6z" fill="#dc0505" shape-rendering="crispEdges"/>
</g>
<g shape-rendering="crispEdges">
<rect x="3" y="31" width="1658" height="1" fill="#7b8b8b"/>
<rect x="3" y="33" width="1658" height="2" fill="#2e8b57"/>
<rect x="3" y="82" width="1658" height="2" fill="#2e8b57"/>
<rect x="3" y="150" width="1658" height="2" fill="#800080"/>
<path d="M3 180.5H1661M3 223.5H1661M3 417.5H1661" stroke="#191970" stroke-width="1" stroke-dasharray="18 6" fill="none"/>
<rect x="3" y="300" width="1658" height="1" fill="#808080"/>
<rect x="3" y="395" width="1658" height="1" fill="#191970"/>
</g>
<g id="logo">
<rect x="10" y="334" width="293.5" height="81.5" fill="#fff"/>
<ellipse cx="46.4" cy="374.1" rx="35.2" ry="38.9" fill="#2e86c9"/>
<ellipse cx="46.4" cy="374.1" rx="33.6" ry="37.3" fill="none" stroke="#fff" stroke-width="0.8" opacity="0.85"/>
<text x="23.2" y="391" font-size="38" font-weight="bold" fill="#fff" font-family="'Liberation Sans', Arial, sans-serif" transform="translate(23.2 391) scale(0.78 1) translate(-23.2 -391)">F</text>
<path d="M25.2 380L31 380L31 407L25.2 403.4Z" fill="#fff"/>
<text x="40.6" y="391" font-size="29" font-weight="bold" fill="#fff" font-family="'Liberation Sans', Arial, sans-serif" transform="translate(40.6 391) scale(1.22 1) translate(-40.6 -391)">x</text>
<path d="M54.5 373.5L65.5 353.2" stroke="#fff" stroke-width="3.8" fill="none"/>
<path d="M70 348.5L62.4 354.4L70.3 357.6Z" fill="#fff"/>
<text transform="translate(85.4 391.7) scale(0.979 1.055)" font-size="44.5" font-weight="bold" fill="#2e86c9" font-family="'Liberation Sans', Arial, sans-serif">Forex</text>
<text transform="translate(200.7 391.7) scale(1.091 1.055)" font-size="44.5" font-weight="bold" fill="#2e86c9" font-family="'Liberation Sans', Arial, sans-serif">Mart</text>
<path d="M193.5 376L208 352.3" stroke="#2e86c9" stroke-width="5.8" fill="none"/>
<path d="M214.1 342.2L201.7 348.8L213.7 356.4Z" fill="#2e86c9"/>
</g>
<g shape-rendering="crispEdges" fill="none" stroke-width="1">
<path d="M4 463.5H1660M4 508.5H1660M4 541.5H1660" stroke="#3a7fc6" stroke-dasharray="3 3"/>
<path d="M3 485.5H1661" stroke="#16adec"/>
</g>
<path d="M1187 459h1v1h-1zM1185 460h2v1h-2zM1188 460h1v1h-1zM1160 461h5v1h-5zM1184 461h1v1h-1zM1189 461h1v1h-1zM1152 462h8v1h-8zM1165 462h3v1h-3zM1182 462h2v1h-2zM1190 462h2v1h-2zM1208 462h6v1h-6zM1234 462h2v1h-2zM1387 462h3v1h-3zM1475 462h5v1h-5zM1147 463h5v1h-5zM1168 463h2v1h-2zM1180 463h2v1h-2zM1192 463h1v1h-1zM1202 463h6v1h-6zM1214 463h4v1h-4zM1230 463h4v1h-4zM1236 463h2v1h-2zM1298 463h4v1h-4zM1314 463h4v1h-4zM1385 463h2v1h-2zM1390 463h4v1h-4zM1400 463h4v1h-4zM1474 463h1v1h-1zM1480 463h4v1h-4zM1146 464h1v1h-1zM1170 464h10v1h-10zM1193 464h1v1h-1zM1200 464h2v1h-2zM1218 464h12v1h-12zM1238 464h2v1h-2zM1294 464h4v1h-4zM1302 464h4v1h-4zM1310 464h4v1h-4zM1318 464h4v1h-4zM1383 464h2v1h-2zM1394 464h6v1h-6zM1404 464h1v1h-1zM1473 464h1v1h-1zM1146 465h1v1h-1zM1194 465h1v1h-1zM1197 465h3v1h-3zM1240 465h1v1h-1zM1283 465h11v1h-11zM1306 465h4v1h-4zM1322 465h3v1h-3zM1381 465h2v1h-2zM1405 465h1v1h-1zM1472 465h1v1h-1zM1115 466h1v1h-1zM1145 466h1v1h-1zM1195 466h2v1h-2zM1241 466h2v1h-2zM1282 466h1v1h-1zM1325 466h2v1h-2zM1376 466h5v1h-5zM1406 466h1v1h-1zM1471 466h1v1h-1zM1114 467h1v1h-1zM1116 467h2v1h-2zM1145 467h1v1h-1zM1243 467h1v1h-1zM1282 467h1v1h-1zM1327 467h2v1h-2zM1368 467h8v1h-8zM1407 467h1v1h-1zM1470 467h1v1h-1zM442 468h3v1h-3zM1114 468h1v1h-1zM1118 468h2v1h-2zM1144 468h1v1h-1zM1244 468h1v1h-1zM1281 468h1v1h-1zM1329 468h2v1h-2zM1347 468h5v1h-5zM1360 468h8v1h-8zM1407 468h1v1h-1zM1469 468h1v1h-1zM438 469h4v1h-4zM445 469h3v1h-3zM1113 469h1v1h-1zM1120 469h1v1h-1zM1143 469h1v1h-1zM1244 469h1v1h-1zM1281 469h1v1h-1zM1331 469h1v1h-1zM1346 469h1v1h-1zM1352 469h8v1h-8zM1408 469h1v1h-1zM1468 469h1v1h-1zM435 470h3v1h-3zM448 470h2v1h-2zM456 470h5v1h-5zM1113 470h1v1h-1zM1121 470h2v1h-2zM1143 470h1v1h-1zM1245 470h1v1h-1zM1280 470h1v1h-1zM1332 470h2v1h-2zM1344 470h2v1h-2zM1409 470h1v1h-1zM1466 470h2v1h-2zM434 471h1v1h-1zM450 471h6v1h-6zM461 471h2v1h-2zM1112 471h1v1h-1zM1123 471h9v1h-9zM1142 471h1v1h-1zM1245 471h1v1h-1zM1280 471h1v1h-1zM1334 471h2v1h-2zM1343 471h1v1h-1zM1410 471h1v1h-1zM1464 471h2v1h-2zM432 472h2v1h-2zM463 472h2v1h-2zM474 472h2v1h-2zM1112 472h1v1h-1zM1132 472h2v1h-2zM1141 472h1v1h-1zM1246 472h1v1h-1zM1279 472h1v1h-1zM1336 472h1v1h-1zM1342 472h1v1h-1zM1411 472h2v1h-2zM1461 472h3v1h-3zM431 473h1v1h-1zM465 473h2v1h-2zM470 473h4v1h-4zM475 473h1v1h-1zM1111 473h1v1h-1zM1134 473h2v1h-2zM1141 473h1v1h-1zM1247 473h1v1h-1zM1279 473h1v1h-1zM1337 473h2v1h-2zM1340 473h2v1h-2zM1413 473h2v1h-2zM1426 473h2v1h-2zM1459 473h2v1h-2zM430 474h1v1h-1zM467 474h3v1h-3zM476 474h1v1h-1zM1008 474h4v1h-4zM1111 474h1v1h-1zM1136 474h1v1h-1zM1140 474h1v1h-1zM1247 474h1v1h-1zM1266 474h2v1h-2zM1278 474h1v1h-1zM1339 474h1v1h-1zM1415 474h2v1h-2zM1424 474h2v1h-2zM1428 474h2v1h-2zM1443 474h1v1h-1zM1458 474h1v1h-1zM428 475h2v1h-2zM476 475h1v1h-1zM1003 475h5v1h-5zM1012 475h2v1h-2zM1110 475h1v1h-1zM1137 475h2v1h-2zM1140 475h1v1h-1zM1248 475h1v1h-1zM1264 475h2v1h-2zM1268 475h1v1h-1zM1278 475h1v1h-1zM1417 475h2v1h-2zM1421 475h3v1h-3zM1430 475h1v1h-1zM1441 475h2v1h-2zM1444 475h1v1h-1zM1457 475h1v1h-1zM355 476h9v1h-9zM427 476h1v1h-1zM477 476h1v1h-1zM1002 476h1v1h-1zM1014 476h2v1h-2zM1110 476h1v1h-1zM1139 476h1v1h-1zM1249 476h1v1h-1zM1261 476h3v1h-3zM1269 476h1v1h-1zM1277 476h1v1h-1zM1419 476h2v1h-2zM1431 476h1v1h-1zM1440 476h1v1h-1zM1445 476h1v1h-1zM1456 476h1v1h-1zM75 477h1v1h-1zM354 477h1v1h-1zM364 477h1v1h-1zM425 477h2v1h-2zM477 477h1v1h-1zM1000 477h2v1h-2zM1016 477h1v1h-1zM1109 477h1v1h-1zM1249 477h1v1h-1zM1258 477h3v1h-3zM1270 477h2v1h-2zM1277 477h1v1h-1zM1432 477h2v1h-2zM1438 477h2v1h-2zM1446 477h2v1h-2zM1455 477h1v1h-1zM73 478h2v1h-2zM76 478h1v1h-1zM352 478h2v1h-2zM364 478h1v1h-1zM423 478h2v1h-2zM478 478h1v1h-1zM999 478h1v1h-1zM1017 478h2v1h-2zM1109 478h1v1h-1zM1250 478h1v1h-1zM1256 478h2v1h-2zM1272 478h1v1h-1zM1276 478h1v1h-1zM1434 478h1v1h-1zM1436 478h2v1h-2zM1448 478h1v1h-1zM1454 478h1v1h-1zM72 479h1v1h-1zM76 479h1v1h-1zM179 479h1v1h-1zM351 479h1v1h-1zM365 479h1v1h-1zM421 479h2v1h-2zM478 479h1v1h-1zM998 479h1v1h-1zM1019 479h2v1h-2zM1108 479h1v1h-1zM1250 479h1v1h-1zM1253 479h3v1h-3zM1273 479h1v1h-1zM1276 479h1v1h-1zM1435 479h1v1h-1zM1449 479h1v1h-1zM1453 479h1v1h-1zM70 480h2v1h-2zM77 480h1v1h-1zM178 480h1v1h-1zM180 480h2v1h-2zM211 480h3v1h-3zM350 480h1v1h-1zM365 480h1v1h-1zM419 480h2v1h-2zM479 480h1v1h-1zM996 480h2v1h-2zM1021 480h2v1h-2zM1108 480h1v1h-1zM1251 480h2v1h-2zM1274 480h2v1h-2zM1450 480h1v1h-1zM1452 480h1v1h-1zM59 481h5v1h-5zM68 481h2v1h-2zM77 481h1v1h-1zM177 481h1v1h-1zM182 481h2v1h-2zM209 481h2v1h-2zM214 481h4v1h-4zM348 481h2v1h-2zM366 481h1v1h-1zM418 481h1v1h-1zM479 481h1v1h-1zM995 481h1v1h-1zM1023 481h2v1h-2zM1091 481h5v1h-5zM1107 481h1v1h-1zM1275 481h1v1h-1zM1451 481h1v1h-1zM57 482h2v1h-2zM64 482h4v1h-4zM78 482h1v1h-1zM176 482h1v1h-1zM184 482h1v1h-1zM207 482h2v1h-2zM218 482h2v1h-2zM346 482h2v1h-2zM366 482h1v1h-1zM417 482h1v1h-1zM479 482h1v1h-1zM994 482h1v1h-1zM1025 482h2v1h-2zM1090 482h1v1h-1zM1096 482h12v1h-12zM40 483h5v1h-5zM56 483h1v1h-1zM78 483h1v1h-1zM175 483h1v1h-1zM185 483h2v1h-2zM205 483h2v1h-2zM220 483h1v1h-1zM342 483h4v1h-4zM367 483h1v1h-1zM416 483h1v1h-1zM480 483h1v1h-1zM993 483h1v1h-1zM1027 483h5v1h-5zM1089 483h1v1h-1zM34 484h6v1h-6zM45 484h3v1h-3zM54 484h2v1h-2zM79 484h1v1h-1zM174 484h1v1h-1zM187 484h2v1h-2zM202 484h3v1h-3zM220 484h1v1h-1zM280 484h5v1h-5zM339 484h3v1h-3zM368 484h1v1h-1zM414 484h2v1h-2zM480 484h1v1h-1zM992 484h1v1h-1zM1032 484h4v1h-4zM1088 484h1v1h-1zM30 485h4v1h-4zM48 485h2v1h-2zM52 485h2v1h-2zM79 485h1v1h-1zM173 485h1v1h-1zM189 485h3v1h-3zM200 485h2v1h-2zM221 485h1v1h-1zM275 485h5v1h-5zM285 485h3v1h-3zM298 485h4v1h-4zM338 485h1v1h-1zM368 485h1v1h-1zM413 485h1v1h-1zM481 485h1v1h-1zM991 485h1v1h-1zM1035 485h1v1h-1zM1086 485h2v1h-2zM26 486h4v1h-4zM50 486h2v1h-2zM80 486h1v1h-1zM172 486h1v1h-1zM192 486h2v1h-2zM197 486h3v1h-3zM221 486h1v1h-1zM274 486h1v1h-1zM288 486h2v1h-2zM294 486h4v1h-4zM302 486h4v1h-4zM338 486h1v1h-1zM369 486h1v1h-1zM412 486h1v1h-1zM481 486h1v1h-1zM990 486h1v1h-1zM1036 486h1v1h-1zM1085 486h1v1h-1zM22 487h4v1h-4zM80 487h1v1h-1zM168 487h4v1h-4zM194 487h3v1h-3zM222 487h1v1h-1zM273 487h1v1h-1zM290 487h4v1h-4zM306 487h4v1h-4zM337 487h1v1h-1zM369 487h1v1h-1zM411 487h1v1h-1zM482 487h1v1h-1zM989 487h1v1h-1zM1036 487h1v1h-1zM1084 487h1v1h-1zM3 488h5v1h-5zM16 488h6v1h-6zM81 488h1v1h-1zM160 488h8v1h-8zM222 488h1v1h-1zM272 488h1v1h-1zM310 488h4v1h-4zM336 488h1v1h-1zM370 488h1v1h-1zM378 488h3v1h-3zM394 488h3v1h-3zM409 488h2v1h-2zM482 488h1v1h-1zM531 488h2v1h-2zM988 488h1v1h-1zM1037 488h1v1h-1zM1082 488h2v1h-2zM8 489h8v1h-8zM81 489h1v1h-1zM154 489h6v1h-6zM223 489h1v1h-1zM271 489h1v1h-1zM314 489h3v1h-3zM335 489h1v1h-1zM370 489h1v1h-1zM374 489h4v1h-4zM381 489h3v1h-3zM392 489h2v1h-2zM397 489h3v1h-3zM407 489h2v1h-2zM483 489h1v1h-1zM530 489h1v1h-1zM533 489h3v1h-3zM987 489h1v1h-1zM1037 489h1v1h-1zM1080 489h2v1h-2zM82 490h1v1h-1zM150 490h4v1h-4zM223 490h1v1h-1zM271 490h1v1h-1zM317 490h3v1h-3zM335 490h1v1h-1zM371 490h3v1h-3zM384 490h2v1h-2zM389 490h3v1h-3zM400 490h2v1h-2zM405 490h2v1h-2zM483 490h5v1h-5zM529 490h1v1h-1zM536 490h2v1h-2zM986 490h1v1h-1zM1038 490h1v1h-1zM1077 490h3v1h-3zM82 491h1v1h-1zM147 491h3v1h-3zM224 491h1v1h-1zM242 491h2v1h-2zM270 491h1v1h-1zM320 491h2v1h-2zM334 491h1v1h-1zM386 491h3v1h-3zM402 491h3v1h-3zM488 491h4v1h-4zM528 491h1v1h-1zM538 491h4v1h-4zM554 491h3v1h-3zM731 491h2v1h-2zM984 491h2v1h-2zM1038 491h1v1h-1zM1074 491h3v1h-3zM83 492h3v1h-3zM98 492h6v1h-6zM122 492h2v1h-2zM146 492h1v1h-1zM224 492h1v1h-1zM240 492h2v1h-2zM244 492h2v1h-2zM269 492h1v1h-1zM322 492h3v1h-3zM333 492h1v1h-1zM492 492h2v1h-2zM527 492h1v1h-1zM542 492h4v1h-4zM550 492h4v1h-4zM557 492h2v1h-2zM730 492h1v1h-1zM733 492h3v1h-3zM954 492h3v1h-3zM983 492h1v1h-1zM1038 492h1v1h-1zM1059 492h3v1h-3zM1072 492h2v1h-2zM86 493h4v1h-4zM94 493h4v1h-4zM104 493h6v1h-6zM120 493h2v1h-2zM124 493h1v1h-1zM146 493h1v1h-1zM225 493h1v1h-1zM237 493h3v1h-3zM246 493h2v1h-2zM268 493h1v1h-1zM325 493h3v1h-3zM332 493h1v1h-1zM494 493h1v1h-1zM526 493h1v1h-1zM546 493h4v1h-4zM559 493h2v1h-2zM730 493h1v1h-1zM736 493h2v1h-2zM950 493h4v1h-4zM957 493h3v1h-3zM970 493h4v1h-4zM982 493h1v1h-1zM1039 493h1v1h-1zM1057 493h2v1h-2zM1062 493h4v1h-4zM1069 493h3v1h-3zM90 494h4v1h-4zM110 494h4v1h-4zM117 494h3v1h-3zM125 494h1v1h-1zM145 494h1v1h-1zM225 494h1v1h-1zM234 494h3v1h-3zM248 494h1v1h-1zM264 494h4v1h-4zM328 494h2v1h-2zM332 494h1v1h-1zM495 494h1v1h-1zM506 494h4v1h-4zM525 494h1v1h-1zM561 494h2v1h-2zM729 494h1v1h-1zM738 494h10v1h-10zM947 494h3v1h-3zM960 494h2v1h-2zM966 494h4v1h-4zM974 494h4v1h-4zM980 494h2v1h-2zM1039 494h1v1h-1zM1056 494h1v1h-1zM1066 494h3v1h-3zM114 495h3v1h-3zM126 495h1v1h-1zM145 495h1v1h-1zM226 495h1v1h-1zM232 495h2v1h-2zM249 495h2v1h-2zM256 495h8v1h-8zM330 495h2v1h-2zM496 495h2v1h-2zM504 495h2v1h-2zM510 495h4v1h-4zM524 495h1v1h-1zM563 495h17v1h-17zM729 495h1v1h-1zM748 495h2v1h-2zM907 495h3v1h-3zM946 495h1v1h-1zM962 495h4v1h-4zM978 495h2v1h-2zM1040 495h1v1h-1zM1054 495h2v1h-2zM127 496h1v1h-1zM144 496h1v1h-1zM226 496h1v1h-1zM229 496h3v1h-3zM251 496h5v1h-5zM498 496h1v1h-1zM501 496h3v1h-3zM514 496h10v1h-10zM580 496h1v1h-1zM728 496h1v1h-1zM750 496h2v1h-2zM762 496h2v1h-2zM906 496h1v1h-1zM910 496h4v1h-4zM944 496h2v1h-2zM1040 496h1v1h-1zM1052 496h2v1h-2zM128 497h1v1h-1zM143 497h1v1h-1zM227 497h2v1h-2zM499 497h2v1h-2zM581 497h1v1h-1zM727 497h1v1h-1zM752 497h1v1h-1zM760 497h2v1h-2zM764 497h2v1h-2zM906 497h1v1h-1zM914 497h4v1h-4zM943 497h1v1h-1zM1040 497h1v1h-1zM1051 497h1v1h-1zM129 498h1v1h-1zM143 498h1v1h-1zM582 498h2v1h-2zM727 498h1v1h-1zM753 498h2v1h-2zM757 498h3v1h-3zM766 498h1v1h-1zM905 498h1v1h-1zM918 498h4v1h-4zM942 498h1v1h-1zM1041 498h1v1h-1zM1050 498h1v1h-1zM130 499h1v1h-1zM142 499h1v1h-1zM584 499h1v1h-1zM594 499h3v1h-3zM726 499h1v1h-1zM755 499h2v1h-2zM767 499h1v1h-1zM786 499h6v1h-6zM904 499h1v1h-1zM922 499h4v1h-4zM940 499h2v1h-2zM1041 499h1v1h-1zM1048 499h2v1h-2zM131 500h2v1h-2zM141 500h1v1h-1zM585 500h1v1h-1zM592 500h2v1h-2zM597 500h3v1h-3zM725 500h1v1h-1zM768 500h2v1h-2zM782 500h4v1h-4zM792 500h4v1h-4zM904 500h1v1h-1zM926 500h4v1h-4zM936 500h4v1h-4zM1042 500h1v1h-1zM1047 500h1v1h-1zM133 501h2v1h-2zM141 501h1v1h-1zM586 501h1v1h-1zM589 501h3v1h-3zM600 501h2v1h-2zM725 501h1v1h-1zM770 501h1v1h-1zM776 501h6v1h-6zM796 501h2v1h-2zM834 501h6v1h-6zM903 501h1v1h-1zM930 501h6v1h-6zM1042 501h1v1h-1zM1046 501h1v1h-1zM135 502h2v1h-2zM140 502h1v1h-1zM587 502h2v1h-2zM602 502h6v1h-6zM724 502h1v1h-1zM771 502h5v1h-5zM798 502h1v1h-1zM832 502h2v1h-2zM840 502h4v1h-4zM902 502h1v1h-1zM1043 502h3v1h-3zM137 503h2v1h-2zM140 503h1v1h-1zM608 503h4v1h-4zM724 503h1v1h-1zM799 503h1v1h-1zM819 503h5v1h-5zM829 503h3v1h-3zM844 503h1v1h-1zM880 503h6v1h-6zM902 503h1v1h-1zM1043 503h1v1h-1zM139 504h1v1h-1zM612 504h1v1h-1zM723 504h1v1h-1zM800 504h2v1h-2zM817 504h2v1h-2zM824 504h5v1h-5zM845 504h1v1h-1zM875 504h5v1h-5zM886 504h4v1h-4zM901 504h1v1h-1zM613 505h1v1h-1zM722 505h1v1h-1zM802 505h1v1h-1zM816 505h1v1h-1zM846 505h2v1h-2zM873 505h2v1h-2zM890 505h4v1h-4zM900 505h1v1h-1zM614 506h1v1h-1zM667 506h2v1h-2zM721 506h1v1h-1zM803 506h3v1h-3zM814 506h2v1h-2zM848 506h1v1h-1zM858 506h3v1h-3zM872 506h1v1h-1zM894 506h4v1h-4zM900 506h1v1h-1zM615 507h1v1h-1zM627 507h2v1h-2zM666 507h1v1h-1zM669 507h3v1h-3zM720 507h1v1h-1zM806 507h4v1h-4zM812 507h2v1h-2zM849 507h1v1h-1zM856 507h2v1h-2zM861 507h3v1h-3zM870 507h2v1h-2zM898 507h2v1h-2zM615 508h1v1h-1zM625 508h2v1h-2zM629 508h3v1h-3zM665 508h1v1h-1zM672 508h2v1h-2zM718 508h2v1h-2zM810 508h2v1h-2zM850 508h1v1h-1zM853 508h3v1h-3zM864 508h2v1h-2zM868 508h2v1h-2zM616 509h1v1h-1zM624 509h1v1h-1zM632 509h2v1h-2zM664 509h1v1h-1zM674 509h22v1h-22zM717 509h1v1h-1zM851 509h2v1h-2zM866 509h2v1h-2zM617 510h1v1h-1zM622 510h2v1h-2zM634 510h19v1h-19zM662 510h2v1h-2zM696 510h5v1h-5zM716 510h1v1h-1zM618 511h1v1h-1zM620 511h2v1h-2zM653 511h3v1h-3zM661 511h1v1h-1zM701 511h2v1h-2zM714 511h2v1h-2zM619 512h1v1h-1zM656 512h2v1h-2zM660 512h1v1h-1zM703 512h2v1h-2zM712 512h2v1h-2zM658 513h2v1h-2zM705 513h2v1h-2zM709 513h3v1h-3zM707 514h2v1h-2z" fill="#3a7fc6" shape-rendering="crispEdges"/>
<g shape-rendering="crispEdges" fill="none" stroke-width="1">
<path d="M4 594.5H1660" stroke="#7a7a82" stroke-dasharray="3 3"/>
<path d="M3.5 593V595M11.5 594V598M27.5 594V597M35.5 594V596M43.5 594V596M51.5 594V596M75.5 591V595M91.5 594V597M99.5 594V596M107.5 594V600M115.5 594V602M123.5 594V603M131.5 594V606M139.5 594V611M147.5 594V611M155.5 594V609M163.5 594V606M171.5 594V605M179.5 594V602M187.5 594V600M195.5 594V605M203.5 594V597M211.5 594V596M219.5 594V597M227.5 594V601M235.5 594V600M243.5 594V599M251.5 594V605M259.5 594V606M267.5 594V608M275.5 594V606M283.5 594V604M291.5 594V604M299.5 594V601M307.5 594V600M315.5 594V600M323.5 594V604M331.5 594V603M339.5 594V602M347.5 594V599M355.5 594V600M363.5 593V595M387.5 594V596M395.5 594V596M411.5 594V596M435.5 588V595M443.5 583V595M451.5 578V595M459.5 578V595M467.5 577V595M475.5 575V595M483.5 581V595M491.5 585V595M499.5 590V595M523.5 594V601M531.5 594V600M539.5 594V602M547.5 594V601M555.5 594V603M563.5 594V605M571.5 594V606M579.5 594V606M587.5 594V610M595.5 594V612M603.5 594V614M611.5 594V617M619.5 594V622M627.5 594V625M635.5 594V628M643.5 594V632M651.5 594V634M659.5 594V636M667.5 594V637M675.5 594V637M683.5 594V638M691.5 594V636M699.5 594V636M707.5 594V636M715.5 594V636M723.5 594V636M731.5 594V631M739.5 594V629M747.5 594V624M755.5 594V623M763.5 594V621M771.5 594V622M779.5 594V623M787.5 594V623M795.5 594V622M803.5 594V623M811.5 594V623M819.5 594V624M827.5 594V624M835.5 594V624M843.5 594V624M851.5 594V624M859.5 594V625M867.5 594V626M875.5 594V625M883.5 594V626M891.5 594V626M899.5 594V626M907.5 594V626M915.5 594V622M923.5 594V620M931.5 594V620M939.5 594V620M947.5 594V618M955.5 594V615M963.5 594V613M971.5 594V611M979.5 594V610M987.5 594V608M995.5 594V605M1003.5 594V602M1011.5 594V597M1043.5 594V601M1051.5 594V600M1059.5 594V599M1067.5 594V603M1075.5 594V603M1083.5 594V600M1091.5 594V601M1099.5 594V598M1107.5 594V596M1115.5 591V595M1123.5 585V595M1131.5 583V595M1139.5 582V595M1147.5 575V595M1155.5 569V595M1163.5 564V595M1171.5 561V595M1179.5 559V595M1187.5 557V595M1195.5 555V595M1203.5 553V595M1211.5 552V595M1219.5 551V595M1227.5 551V595M1235.5 551V595M1243.5 551V595M1251.5 552V595M1259.5 560V595M1267.5 562V595M1275.5 566V595M1283.5 560V595M1291.5 557V595M1299.5 555V595M1307.5 553V595M1315.5 552V595M1323.5 552V595M1331.5 553V595M1339.5 556V595M1347.5 556V595M1355.5 557V595M1363.5 557V595M1371.5 558V595M1379.5 557V595M1387.5 556V595M1395.5 556V595M1403.5 557V595M1411.5 560V595M1419.5 563V595M1427.5 565V595M1435.5 568V595M1443.5 569V595M1451.5 572V595M1459.5 572V595M1467.5 571V595M1475.5 568V595M1483.5 563V595" stroke="#bdbdbd"/>
</g>
<path d="M1240 551h17v1h-17zM1234 552h29v1h-29zM1232 553h9v1h-9zM1256 553h11v1h-11zM1344 553h41v1h-41zM1229 554h6v1h-6zM1262 554h11v1h-11zM1336 554h57v1h-57zM1226 555h7v1h-7zM1266 555h15v1h-15zM1328 555h17v1h-17zM1384 555h25v1h-25zM1222 556h8v1h-8zM1272 556h65v1h-65zM1392 556h25v1h-25zM1218 557h9v1h-9zM1280 557h49v1h-49zM1408 557h17v1h-17zM1214 558h9v1h-9zM1416 558h17v1h-17zM1210 559h9v1h-9zM1424 559h15v1h-15zM1208 560h7v1h-7zM1432 560h11v1h-11zM1205 561h6v1h-6zM1438 561h17v1h-17zM1202 562h7v1h-7zM1442 562h17v1h-17zM1200 563h6v1h-6zM1454 563h11v1h-11zM1197 564h6v1h-6zM1458 564h13v1h-13zM1195 565h6v1h-6zM1464 565h11v1h-11zM1193 566h5v1h-5zM1470 566h15v1h-15zM1191 567h5v1h-5zM1474 567h11v1h-11zM1189 568h5v1h-5zM1187 569h5v1h-5zM1185 570h5v1h-5zM1184 571h4v1h-4zM1182 572h4v1h-4zM1180 573h5v1h-5zM1179 574h4v1h-4zM1177 575h4v1h-4zM1175 576h5v1h-5zM1173 577h5v1h-5zM1171 578h5v1h-5zM1169 579h5v1h-5zM490 580h15v1h-15zM1167 580h5v1h-5zM486 581h27v1h-27zM1165 581h5v1h-5zM482 582h9v1h-9zM504 582h14v1h-14zM1163 582h5v1h-5zM478 583h9v1h-9zM512 583h9v1h-9zM1161 583h5v1h-5zM474 584h9v1h-9zM517 584h6v1h-6zM1159 584h5v1h-5zM472 585h7v1h-7zM520 585h7v1h-7zM1157 585h5v1h-5zM469 586h6v1h-6zM522 586h9v1h-9zM1155 586h5v1h-5zM466 587h7v1h-7zM526 587h8v1h-8zM1153 587h5v1h-5zM462 588h8v1h-8zM530 588h7v1h-7zM1151 588h5v1h-5zM458 589h9v1h-9zM533 589h6v1h-6zM1149 589h5v1h-5zM454 590h9v1h-9zM536 590h6v1h-6zM1147 590h5v1h-5zM450 591h9v1h-9zM538 591h6v1h-6zM1145 591h5v1h-5zM3 592h12v1h-12zM446 592h9v1h-9zM541 592h5v1h-5zM1143 592h5v1h-5zM3 593h16v1h-16zM440 593h11v1h-11zM543 593h5v1h-5zM1141 593h5v1h-5zM14 594h19v1h-19zM74 594h39v1h-39zM432 594h15v1h-15zM545 594h6v1h-6zM1136 594h8v1h-8zM18 595h23v1h-23zM70 595h51v1h-51zM400 595h41v1h-41zM547 595h8v1h-8zM1130 595h12v1h-12zM32 596h43v1h-43zM112 596h17v1h-17zM384 596h49v1h-49zM550 596h9v1h-9zM1126 596h11v1h-11zM40 597h31v1h-31zM120 597h15v1h-15zM376 597h25v1h-25zM554 597h9v1h-9zM1122 597h9v1h-9zM128 598h11v1h-11zM240 598h9v1h-9zM360 598h25v1h-25zM558 598h8v1h-8zM1056 598h9v1h-9zM1118 598h9v1h-9zM134 599h9v1h-9zM224 599h39v1h-39zM352 599h25v1h-25zM562 599h7v1h-7zM1050 599h31v1h-31zM1112 599h11v1h-11zM138 600h9v1h-9zM218 600h23v1h-23zM248 600h19v1h-19zM344 600h17v1h-17zM565 600h6v1h-6zM1046 600h11v1h-11zM1064 600h55v1h-55zM142 601h8v1h-8zM216 601h9v1h-9zM262 601h11v1h-11zM336 601h17v1h-17zM568 601h7v1h-7zM1040 601h11v1h-11zM1080 601h33v1h-33zM146 602h7v1h-7zM213 602h6v1h-6zM266 602h15v1h-15zM328 602h17v1h-17zM570 602h9v1h-9zM1034 602h13v1h-13zM149 603h6v1h-6zM210 603h7v1h-7zM272 603h65v1h-65zM574 603h19v1h-19zM1030 603h11v1h-11zM152 604h9v1h-9zM206 604h8v1h-8zM280 604h49v1h-49zM578 604h21v1h-21zM1026 604h9v1h-9zM154 605h57v1h-57zM592 605h11v1h-11zM1022 605h9v1h-9zM160 606h47v1h-47zM598 606h11v1h-11zM1018 606h9v1h-9zM602 607h12v1h-12zM1014 607h9v1h-9zM608 608h9v1h-9zM1010 608h9v1h-9zM613 609h6v1h-6zM1008 609h7v1h-7zM616 610h7v1h-7zM1005 610h6v1h-6zM618 611h9v1h-9zM1002 611h7v1h-7zM622 612h8v1h-8zM998 612h8v1h-8zM626 613h7v1h-7zM994 613h9v1h-9zM629 614h6v1h-6zM990 614h9v1h-9zM632 615h7v1h-7zM984 615h11v1h-11zM634 616h9v1h-9zM978 616h13v1h-13zM638 617h8v1h-8zM974 617h11v1h-11zM642 618h6v1h-6zM968 618h11v1h-11zM645 619h5v1h-5zM962 619h13v1h-13zM647 620h5v1h-5zM958 620h11v1h-11zM649 621h5v1h-5zM952 621h11v1h-11zM651 622h6v1h-6zM808 622h9v1h-9zM944 622h15v1h-15zM653 623h6v1h-6zM800 623h49v1h-49zM936 623h17v1h-17zM656 624h7v1h-7zM792 624h17v1h-17zM816 624h49v1h-49zM920 624h25v1h-25zM658 625h9v1h-9zM786 625h15v1h-15zM848 625h89v1h-89zM662 626h8v1h-8zM782 626h11v1h-11zM864 626h57v1h-57zM666 627h7v1h-7zM778 627h9v1h-9zM669 628h6v1h-6zM774 628h9v1h-9zM672 629h7v1h-7zM770 629h9v1h-9zM674 630h9v1h-9zM766 630h9v1h-9zM678 631h9v1h-9zM762 631h9v1h-9zM682 632h9v1h-9zM758 632h9v1h-9zM686 633h9v1h-9zM752 633h11v1h-11zM690 634h9v1h-9zM744 634h15v1h-15zM694 635h59v1h-59zM698 636h47v1h-47z" fill="#a856c6" shape-rendering="crispEdges"/>
<g shape-rendering="crispEdges" fill="none" stroke="#000" stroke-width="1">
<rect x="2.5" y="2.5" width="1659" height="424"/>
<rect x="2.5" y="428.5" width="1659" height="114"/>
<rect x="2.5" y="544.5" width="1659" height="99"/>
<path d="M1662 27.5h2M1662 60.5h2M1662 93.5h2M1662 126.5h2M1662 159.5h2M1662 192.5h2M1662 225.5h2M1662 258.5h2M1662 291.5h2M1662 324.5h2M1662 357.5h2M1662 390.5h2M1662 423.5h2M1662 430.5h1M1662 463.5h1M1662 508.5h1M1662 541.5h1M1662 546.5h1M1662 594.5h1M1662 643.5h1M3.5 644v3M67.5 644v3M131.5 644v3M195.5 644v3M259.5 644v3M323.5 644v3M387.5 644v3M451.5 644v3M515.5 644v3M579.5 644v3M643.5 644v3M707.5 644v3M771.5 644v3M835.5 644v3M899.5 644v3M963.5 644v3M1027.5 644v3M1091.5 644v3M1155.5 644v3M1219.5 644v3M1283.5 644v3M1347.5 644v3M1411.5 644v3M1475.5 644v3"/>
</g>
<text x="1667.8" y="31" font-size="10.2" fill="#000" stroke="#000" stroke-width="0.2" textLength="32.2" lengthAdjust="spacingAndGlyphs" font-family="'Liberation Sans', Arial, sans-serif">1.25900</text>
<text x="1667.8" y="64" font-size="10.2" fill="#000" stroke="#000" stroke-width="0.2" textLength="32.2" lengthAdjust="spacingAndGlyphs" font-family="'Liberation Sans', Arial, sans-serif">1.25490</text>
<text x="1667.8" y="97" font-size="10.2" fill="#000" stroke="#000" stroke-width="0.2" textLength="32.2" lengthAdjust="spacingAndGlyphs" font-family="'Liberation Sans', Arial, sans-serif">1.25080</text>
<text x="1667.8" y="130" font-size="10.2" fill="#000" stroke="#000" stroke-width="0.2" textLength="32.2" lengthAdjust="spacingAndGlyphs" font-family="'Liberation Sans', Arial, sans-serif">1.24670</text>
<text x="1667.8" y="163" font-size="10.2" fill="#000" stroke="#000" stroke-width="0.2" textLength="32.2" lengthAdjust="spacingAndGlyphs" font-family="'Liberation Sans', Arial, sans-serif">1.24260</text>
<text x="1667.8" y="196" font-size="10.2" fill="#000" stroke="#000" stroke-width="0.2" textLength="32.2" lengthAdjust="spacingAndGlyphs" font-family="'Liberation Sans', Arial, sans-serif">1.23850</text>
<text x="1667.8" y="229" font-size="10.2" fill="#000" stroke="#000" stroke-width="0.2" textLength="32.2" lengthAdjust="spacingAndGlyphs" font-family="'Liberation Sans', Arial, sans-serif">1.23440</text>
<text x="1667.8" y="262" font-size="10.2" fill="#000" stroke="#000" stroke-width="0.2" textLength="32.2" lengthAdjust="spacingAndGlyphs" font-family="'Liberation Sans', Arial, sans-serif">1.23030</text>
<text x="1667.8" y="295" font-size="10.2" fill="#000" stroke="#000" stroke-width="0.2" textLength="32.2" lengthAdjust="spacingAndGlyphs" font-family="'Liberation Sans', Arial, sans-serif">1.22630</text>
<text x="1667.8" y="328" font-size="10.2" fill="#000" stroke="#000" stroke-width="0.2" textLength="32.2" lengthAdjust="spacingAndGlyphs" font-family="'Liberation Sans', Arial, sans-serif">1.22220</text>
<text x="1667.8" y="361" font-size="10.2" fill="#000" stroke="#000" stroke-width="0.2" textLength="32.2" lengthAdjust="spacingAndGlyphs" font-family="'Liberation Sans', Arial, sans-serif">1.21810</text>
<text x="1667.8" y="394" font-size="10.2" fill="#000" stroke="#000" stroke-width="0.2" textLength="32.2" lengthAdjust="spacingAndGlyphs" font-family="'Liberation Sans', Arial, sans-serif">1.21400</text>
<text x="1667.8" y="427" font-size="10.2" fill="#000" stroke="#000" stroke-width="0.2" textLength="32.2" lengthAdjust="spacingAndGlyphs" font-family="'Liberation Sans', Arial, sans-serif">1.20990</text>
<rect x="1663" y="26" width="41" height="11" fill="#000" shape-rendering="crispEdges"/>
<rect x="1663" y="28" width="41" height="11" fill="#2e8b57" shape-rendering="crispEdges"/>
<text x="1667.8" y="37" font-size="10.2" fill="#fff" stroke="#fff" stroke-width="0.2" textLength="32.2" lengthAdjust="spacingAndGlyphs" font-family="'Liberation Sans', Arial, sans-serif">1.25808</text>
<rect x="1663" y="77" width="41" height="11" fill="#2e8b57" shape-rendering="crispEdges"/>
<text x="1667.8" y="86" font-size="10.2" fill="#fff" stroke="#fff" stroke-width="0.2" textLength="32.2" lengthAdjust="spacingAndGlyphs" font-family="'Liberation Sans', Arial, sans-serif">1.25204</text>
<rect x="1663" y="145" width="41" height="11" fill="#800080" shape-rendering="crispEdges"/>
<text x="1667.8" y="154" font-size="10.2" fill="#fff" stroke="#fff" stroke-width="0.2" textLength="32.2" lengthAdjust="spacingAndGlyphs" font-family="'Liberation Sans', Arial, sans-serif">1.24360</text>
<rect x="1663" y="174" width="41" height="11" fill="#191970" shape-rendering="crispEdges"/>
<text x="1667.8" y="183" font-size="10.2" fill="#fff" stroke="#fff" stroke-width="0.2" textLength="32.2" lengthAdjust="spacingAndGlyphs" font-family="'Liberation Sans', Arial, sans-serif">1.24002</text>
<rect x="1663" y="217" width="41" height="11" fill="#191970" shape-rendering="crispEdges"/>
<text x="1667.8" y="226" font-size="10.2" fill="#fff" stroke="#fff" stroke-width="0.2" textLength="32.2" lengthAdjust="spacingAndGlyphs" font-family="'Liberation Sans', Arial, sans-serif">1.23476</text>
<rect x="1663" y="294" width="41" height="11" fill="#808080" shape-rendering="crispEdges"/>
<text x="1667.8" y="303" font-size="10.2" fill="#fff" stroke="#fff" stroke-width="0.2" textLength="32.2" lengthAdjust="spacingAndGlyphs" font-family="'Liberation Sans', Arial, sans-serif">1.22511</text>
<rect x="1663" y="389" width="41" height="11" fill="#191970" shape-rendering="crispEdges"/>
<text x="1667.8" y="398" font-size="10.2" fill="#fff" stroke="#fff" stroke-width="0.2" textLength="32.2" lengthAdjust="spacingAndGlyphs" font-family="'Liberation Sans', Arial, sans-serif">1.21340</text>
<rect x="1663" y="411" width="41" height="11" fill="#191970" shape-rendering="crispEdges"/>
<text x="1667.8" y="420" font-size="10.2" fill="#fff" stroke="#fff" stroke-width="0.2" textLength="32.2" lengthAdjust="spacingAndGlyphs" font-family="'Liberation Sans', Arial, sans-serif">1.21060</text>
<text x="1665.8" y="439" font-size="10.2" fill="#000" stroke="#000" stroke-width="0.2" textLength="14" lengthAdjust="spacingAndGlyphs" font-family="'Liberation Sans', Arial, sans-serif">100</text>
<text x="1664.8" y="467" font-size="10.2" fill="#000" stroke="#000" stroke-width="0.2" textLength="8.9" lengthAdjust="spacingAndGlyphs" font-family="'Liberation Sans', Arial, sans-serif">70</text>
<text x="1664.8" y="512" font-size="10.2" fill="#000" stroke="#000" stroke-width="0.2" textLength="8.9" lengthAdjust="spacingAndGlyphs" font-family="'Liberation Sans', Arial, sans-serif">30</text>
<text x="1664.6" y="539" font-size="10.2" fill="#000" stroke="#000" stroke-width="0.2" textLength="4.6" lengthAdjust="spacingAndGlyphs" font-family="'Liberation Sans', Arial, sans-serif">0</text>
<text x="1664.6" y="542.2" font-size="10.2" fill="#000" stroke="#000" stroke-width="0.2" textLength="4.6" lengthAdjust="spacingAndGlyphs" font-family="'Liberation Sans', Arial, sans-serif">0</text>
<text x="1672.6" y="542.2" font-size="8.5" fill="#000" stroke="#000" stroke-width="0.2" textLength="3.8" lengthAdjust="spacingAndGlyphs" font-family="'Liberation Sans', Arial, sans-serif">c</text>
<rect x="1663" y="479" width="41" height="11" fill="#16adec" shape-rendering="crispEdges"/>
<text x="1667.8" y="488" font-size="10.2" fill="#fff" stroke="#fff" stroke-width="0.2" textLength="32.2" lengthAdjust="spacingAndGlyphs" font-family="'Liberation Sans', Arial, sans-serif">50.0000</text>
<text x="1665.2" y="555" font-size="10.2" fill="#000" stroke="#000" stroke-width="0.2" textLength="37.2" lengthAdjust="spacingAndGlyphs" font-family="'Liberation Sans', Arial, sans-serif">0.005708</text>
<text x="1665.5" y="598" font-size="10.2" fill="#000" stroke="#000" stroke-width="0.2" textLength="16.5" lengthAdjust="spacingAndGlyphs" font-family="'Liberation Sans', Arial, sans-serif">0.00</text>
<text x="1665.5" y="641" font-size="10.2" fill="#000" stroke="#000" stroke-width="0.2" textLength="34.8" lengthAdjust="spacingAndGlyphs" font-family="'Liberation Sans', Arial, sans-serif">-0.00564</text>
<text x="18.2" y="14" font-size="10.2" fill="#000" stroke="#000" stroke-width="0.2" textLength="54" lengthAdjust="spacingAndGlyphs" font-family="'Liberation Sans', Arial, sans-serif">GBPUSD,H4</text>
<text x="78.5" y="14" font-size="10.2" fill="#000" stroke="#000" stroke-width="0.2" textLength="32.2" lengthAdjust="spacingAndGlyphs" font-family="'Liberation Sans', Arial, sans-serif">1.25876</text>
<text x="114.5" y="14" font-size="10.2" fill="#000" stroke="#000" stroke-width="0.2" textLength="32.2" lengthAdjust="spacingAndGlyphs" font-family="'Liberation Sans', Arial, sans-serif">1.25938</text>
<text x="150.5" y="14" font-size="10.2" fill="#000" stroke="#000" stroke-width="0.2" textLength="32.2" lengthAdjust="spacingAndGlyphs" font-family="'Liberation Sans', Arial, sans-serif">1.25838</text>
<text x="186.5" y="14" font-size="10.2" fill="#000" stroke="#000" stroke-width="0.2" textLength="32.2" lengthAdjust="spacingAndGlyphs" font-family="'Liberation Sans', Arial, sans-serif">1.25845</text>
<path d="M6.3 9.2h7l-3.5 4z" fill="#000"/>
<text x="7.8" y="441" font-size="10.2" fill="#000" stroke="#000" stroke-width="0.2" textLength="30.6" lengthAdjust="spacingAndGlyphs" font-family="'Liberation Sans', Arial, sans-serif">RSI(14)</text>
<text x="42.7" y="441" font-size="10.2" fill="#000" stroke="#000" stroke-width="0.2" textLength="32" lengthAdjust="spacingAndGlyphs" font-family="'Liberation Sans', Arial, sans-serif">70.1636</text>
<text x="7.8" y="557" font-size="10.2" fill="#000" stroke="#000" stroke-width="0.2" textLength="64.3" lengthAdjust="spacingAndGlyphs" font-family="'Liberation Sans', Arial, sans-serif">MACD(12,26,9)</text>
<text x="76.3" y="557" font-size="10.2" fill="#000" stroke="#000" stroke-width="0.2" textLength="37" lengthAdjust="spacingAndGlyphs" font-family="'Liberation Sans', Arial, sans-serif">0.003766</text>
<text x="117.3" y="557" font-size="10.2" fill="#000" stroke="#000" stroke-width="0.2" textLength="37.4" lengthAdjust="spacingAndGlyphs" font-family="'Liberation Sans', Arial, sans-serif">0.003229</text>
<text x="5.2" y="461" font-size="10.2" fill="#000" stroke="#000" stroke-width="0.2" textLength="8.9" lengthAdjust="spacingAndGlyphs" font-family="'Liberation Sans', Arial, sans-serif">70</text>
<text x="5.2" y="506" font-size="10.2" fill="#000" stroke="#000" stroke-width="0.2" textLength="8.9" lengthAdjust="spacingAndGlyphs" font-family="'Liberation Sans', Arial, sans-serif">30</text>
<text x="5.2" y="539" font-size="10.2" fill="#000" stroke="#000" stroke-width="0.2" textLength="8.9" lengthAdjust="spacingAndGlyphs" font-family="'Liberation Sans', Arial, sans-serif">50</text>
<text x="2.9" y="656" font-size="10.2" fill="#000" stroke="#000" stroke-width="0.2" textLength="50.5" lengthAdjust="spacingAndGlyphs" font-family="'Liberation Sans', Arial, sans-serif">10 Feb 2017</text>
<text x="66.9" y="656" font-size="10.2" fill="#000" stroke="#000" stroke-width="0.2" textLength="53.4" lengthAdjust="spacingAndGlyphs" font-family="'Liberation Sans', Arial, sans-serif">14 Feb 00:00</text>
<text x="130.9" y="656" font-size="10.2" fill="#000" stroke="#000" stroke-width="0.2" textLength="53.4" lengthAdjust="spacingAndGlyphs" font-family="'Liberation Sans', Arial, sans-serif">15 Feb 08:00</text>
<text x="194.9" y="656" font-size="10.2" fill="#000" stroke="#000" stroke-width="0.2" textLength="53.4" lengthAdjust="spacingAndGlyphs" font-family="'Liberation Sans', Arial, sans-serif">16 Feb 16:00</text>
<text x="258.9" y="656" font-size="10.2" fill="#000" stroke="#000" stroke-width="0.2" textLength="53.4" lengthAdjust="spacingAndGlyphs" font-family="'Liberation Sans', Arial, sans-serif">20 Feb 00:00</text>
<text x="322.9" y="656" font-size="10.2" fill="#000" stroke="#000" stroke-width="0.2" textLength="53.4" lengthAdjust="spacingAndGlyphs" font-family="'Liberation Sans', Arial, sans-serif">21 Feb 08:00</text>
<text x="386.9" y="656" font-size="10.2" fill="#000" stroke="#000" stroke-width="0.2" textLength="53.4" lengthAdjust="spacingAndGlyphs" font-family="'Liberation Sans', Arial, sans-serif">22 Feb 16:00</text>
<text x="450.9" y="656" font-size="10.2" fill="#000" stroke="#000" stroke-width="0.2" textLength="53.4" lengthAdjust="spacingAndGlyphs" font-family="'Liberation Sans', Arial, sans-serif">24 Feb 00:00</text>
<text x="514.9" y="656" font-size="10.2" fill="#000" stroke="#000" stroke-width="0.2" textLength="53.4" lengthAdjust="spacingAndGlyphs" font-family="'Liberation Sans', Arial, sans-serif">27 Feb 08:00</text>
<text x="578.9" y="656" font-size="10.2" fill="#000" stroke="#000" stroke-width="0.2" textLength="53.4" lengthAdjust="spacingAndGlyphs" font-family="'Liberation Sans', Arial, sans-serif">28 Feb 16:00</text>
<text x="642.9" y="656" font-size="10.2" fill="#000" stroke="#000" stroke-width="0.2" textLength="49.5" lengthAdjust="spacingAndGlyphs" font-family="'Liberation Sans', Arial, sans-serif">2 Mar 00:00</text>
<text x="706.9" y="656" font-size="10.2" fill="#000" stroke="#000" stroke-width="0.2" textLength="49.5" lengthAdjust="spacingAndGlyphs" font-family="'Liberation Sans', Arial, sans-serif">3 Mar 08:00</text>
<text x="770.9" y="656" font-size="10.2" fill="#000" stroke="#000" stroke-width="0.2" textLength="49.5" lengthAdjust="spacingAndGlyphs" font-family="'Liberation Sans', Arial, sans-serif">6 Mar 16:00</text>
<text x="834.9" y="656" font-size="10.2" fill="#000" stroke="#000" stroke-width="0.2" textLength="49.5" lengthAdjust="spacingAndGlyphs" font-family="'Liberation Sans', Arial, sans-serif">8 Mar 00:00</text>
<text x="898.9" y="656" font-size="10.2" fill="#000" stroke="#000" stroke-width="0.2" textLength="49.5" lengthAdjust="spacingAndGlyphs" font-family="'Liberation Sans', Arial, sans-serif">9 Mar 08:00</text>
<text x="962.9" y="656" font-size="10.2" fill="#000" stroke="#000" stroke-width="0.2" textLength="54.3" lengthAdjust="spacingAndGlyphs" font-family="'Liberation Sans', Arial, sans-serif">10 Mar 16:00</text>
<text x="1026.9" y="656" font-size="10.2" fill="#000" stroke="#000" stroke-width="0.2" textLength="54.3" lengthAdjust="spacingAndGlyphs" font-family="'Liberation Sans', Arial, sans-serif">14 Mar 00:00</text>
<text x="1090.9" y="656" font-size="10.2" fill="#000" stroke="#000" stroke-width="0.2" textLength="54.3" lengthAdjust="spacingAndGlyphs" font-family="'Liberation Sans', Arial, sans-serif">15 Mar 08:00</text>
<text x="1154.9" y="656" font-size="10.2" fill="#000" stroke="#000" stroke-width="0.2" textLength="54.3" lengthAdjust="spacingAndGlyphs" font-family="'Liberation Sans', Arial, sans-serif">16 Mar 16:00</text>
<text x="1218.9" y="656" font-size="10.2" fill="#000" stroke="#000" stroke-width="0.2" textLength="54.3" lengthAdjust="spacingAndGlyphs" font-family="'Liberation Sans', Arial, sans-serif">20 Mar 00:00</text>
<text x="1282.9" y="656" font-size="10.2" fill="#000" stroke="#000" stroke-width="0.2" textLength="54.3" lengthAdjust="spacingAndGlyphs" font-family="'Liberation Sans', Arial, sans-serif">21 Mar 08:00</text>
<text x="1346.9" y="656" font-size="10.2" fill="#000" stroke="#000" stroke-width="0.2" textLength="54.3" lengthAdjust="spacingAndGlyphs" font-family="'Liberation Sans', Arial, sans-serif">22 Mar 16:00</text>
<text x="1410.9" y="656" font-size="10.2" fill="#000" stroke="#000" stroke-width="0.2" textLength="54.3" lengthAdjust="spacingAndGlyphs" font-family="'Liberation Sans', Arial, sans-serif">24 Mar 00:00</text>
<text x="1474.9" y="656" font-size="10.2" fill="#000" stroke="#000" stroke-width="0.2" textLength="54.3" lengthAdjust="spacingAndGlyphs" font-family="'Liberation Sans', Arial, sans-serif">27 Mar 08:00</text>
</svg>
</body></html>
